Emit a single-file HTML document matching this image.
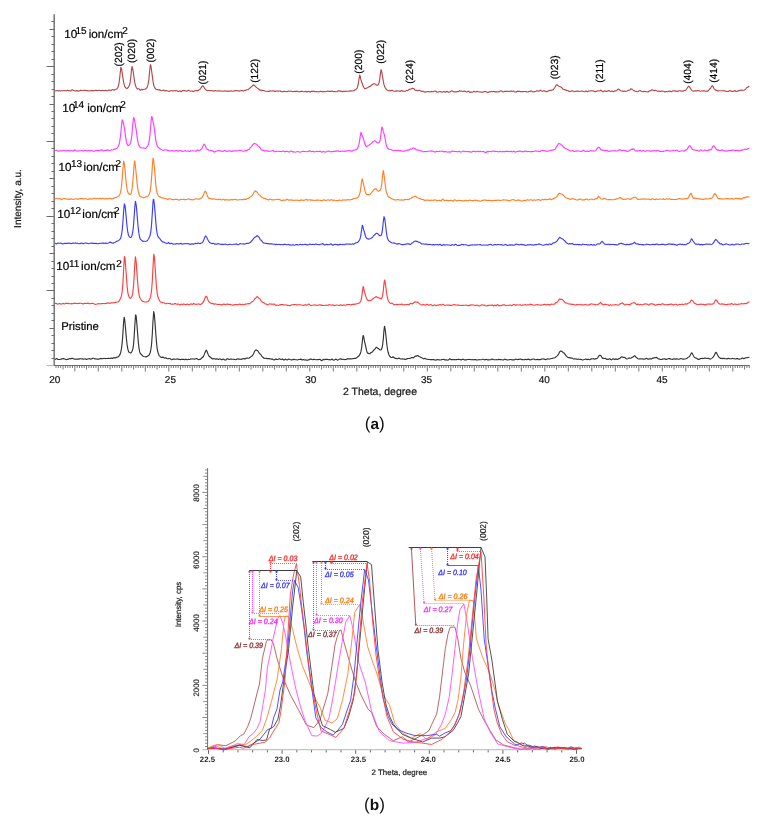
<!DOCTYPE html>
<html><head><meta charset="utf-8"><style>
html,body{margin:0;padding:0;background:#fff;width:768px;height:822px;overflow:hidden}
svg{display:block}
text{font-family:"Liberation Sans", sans-serif;text-rendering:geometricPrecision}
svg{will-change:transform}
</style></head><body>
<svg width="768" height="822" viewBox="0 0 768 822">
<rect width="768" height="822" fill="#fff"/>
<line x1="54.2" y1="14.3" x2="54.2" y2="366.0" stroke="#767676" stroke-width="1.5"/>
<path d="M51.5 358.5H54.5M51.5 350.5H54.5M51.5 343.5H54.5M51.5 335.5H54.5M49.5 328.5H54.5M51.5 320.5H54.5M51.5 313.5H54.5M51.5 305.5H54.5M51.5 298.5H54.5M46.5 290.5H54.5M51.5 283.5H54.5M51.5 276.5H54.5M51.5 268.5H54.5M51.5 261.5H54.5M49.5 253.5H54.5M51.5 246.5H54.5M51.5 238.5H54.5M51.5 231.5H54.5M51.5 223.5H54.5M46.5 216.5H54.5M51.5 208.5H54.5M51.5 201.5H54.5M51.5 193.5H54.5M51.5 186.5H54.5M49.5 178.5H54.5M51.5 171.5H54.5M51.5 163.5H54.5M51.5 156.5H54.5M51.5 148.5H54.5M46.5 141.5H54.5M51.5 133.5H54.5M51.5 126.5H54.5M51.5 118.5H54.5M51.5 111.5H54.5M49.5 104.5H54.5M51.5 96.5H54.5M51.5 89.5H54.5M51.5 81.5H54.5M51.5 74.5H54.5M46.5 66.5H54.5M51.5 59.5H54.5M51.5 51.5H54.5M51.5 44.5H54.5M51.5 36.5H54.5M49.5 29.5H54.5M51.5 21.5H54.5" stroke="#6a6a6a" stroke-width="1" fill="none"/>
<line x1="46.6" y1="365.5" x2="54" y2="365.5" stroke="#bbb" stroke-width="1"/>
<line x1="54.0" y1="365.5" x2="749.6" y2="365.5" stroke="#6a6a6a" stroke-width="1"/>
<path d="M56.00 365.5v2.5M58.35 365.5v2.5M60.70 365.5v2.5M63.05 365.5v4M65.40 365.5v2.5M67.75 365.5v2.5M70.10 365.5v2.5M72.45 365.5v2.5M74.80 365.5v6M77.15 365.5v2.5M79.50 365.5v2.5M81.85 365.5v2.5M84.20 365.5v2.5M86.55 365.5v4M88.90 365.5v2.5M91.25 365.5v2.5M93.60 365.5v2.5M95.95 365.5v2.5M98.30 365.5v6M100.65 365.5v2.5M103.00 365.5v2.5M105.35 365.5v2.5M107.70 365.5v2.5M110.05 365.5v4M112.40 365.5v2.5M114.75 365.5v2.5M117.10 365.5v2.5M119.45 365.5v2.5M121.80 365.5v6M124.15 365.5v2.5M126.50 365.5v2.5M128.85 365.5v2.5M131.20 365.5v2.5M133.55 365.5v4M135.90 365.5v2.5M138.25 365.5v2.5M140.60 365.5v2.5M142.95 365.5v2.5M145.30 365.5v6M147.65 365.5v2.5M150.00 365.5v2.5M152.35 365.5v2.5M154.70 365.5v2.5M157.05 365.5v4M159.40 365.5v2.5M161.75 365.5v2.5M164.10 365.5v2.5M166.45 365.5v2.5M168.80 365.5v6M171.15 365.5v2.5M173.50 365.5v2.5M175.85 365.5v2.5M178.20 365.5v2.5M180.55 365.5v4M182.90 365.5v2.5M185.25 365.5v2.5M187.60 365.5v2.5M189.95 365.5v2.5M192.30 365.5v6M194.65 365.5v2.5M197.00 365.5v2.5M199.35 365.5v2.5M201.70 365.5v2.5M204.05 365.5v4M206.40 365.5v2.5M208.75 365.5v2.5M211.10 365.5v2.5M213.45 365.5v2.5M215.80 365.5v6M218.15 365.5v2.5M220.50 365.5v2.5M222.85 365.5v2.5M225.20 365.5v2.5M227.55 365.5v4M229.90 365.5v2.5M232.25 365.5v2.5M234.60 365.5v2.5M236.95 365.5v2.5M239.30 365.5v6M241.65 365.5v2.5M244.00 365.5v2.5M246.35 365.5v2.5M248.70 365.5v2.5M251.05 365.5v4M253.40 365.5v2.5M255.75 365.5v2.5M258.10 365.5v2.5M260.45 365.5v2.5M262.80 365.5v6M265.15 365.5v2.5M267.50 365.5v2.5M269.85 365.5v2.5M272.20 365.5v2.5M274.55 365.5v4M276.90 365.5v2.5M279.25 365.5v2.5M281.60 365.5v2.5M283.95 365.5v2.5M286.30 365.5v6M288.65 365.5v2.5M291.00 365.5v2.5M293.35 365.5v2.5M295.70 365.5v2.5M298.05 365.5v4M300.40 365.5v2.5M302.75 365.5v2.5M305.10 365.5v2.5M307.45 365.5v2.5M309.80 365.5v6M312.15 365.5v2.5M314.50 365.5v2.5M316.85 365.5v2.5M319.20 365.5v2.5M321.55 365.5v4M323.90 365.5v2.5M326.25 365.5v2.5M328.60 365.5v2.5M330.95 365.5v2.5M333.30 365.5v6M335.65 365.5v2.5M338.00 365.5v2.5M340.35 365.5v2.5M342.70 365.5v2.5M345.05 365.5v4M347.40 365.5v2.5M349.75 365.5v2.5M352.10 365.5v2.5M354.45 365.5v2.5M356.80 365.5v6M359.15 365.5v2.5M361.50 365.5v2.5M363.85 365.5v2.5M366.20 365.5v2.5M368.55 365.5v4M370.90 365.5v2.5M373.25 365.5v2.5M375.60 365.5v2.5M377.95 365.5v2.5M380.30 365.5v6M382.65 365.5v2.5M385.00 365.5v2.5M387.35 365.5v2.5M389.70 365.5v2.5M392.05 365.5v4M394.40 365.5v2.5M396.75 365.5v2.5M399.10 365.5v2.5M401.45 365.5v2.5M403.80 365.5v6M406.15 365.5v2.5M408.50 365.5v2.5M410.85 365.5v2.5M413.20 365.5v2.5M415.55 365.5v4M417.90 365.5v2.5M420.25 365.5v2.5M422.60 365.5v2.5M424.95 365.5v2.5M427.30 365.5v6M429.65 365.5v2.5M432.00 365.5v2.5M434.35 365.5v2.5M436.70 365.5v2.5M439.05 365.5v4M441.40 365.5v2.5M443.75 365.5v2.5M446.10 365.5v2.5M448.45 365.5v2.5M450.80 365.5v6M453.15 365.5v2.5M455.50 365.5v2.5M457.85 365.5v2.5M460.20 365.5v2.5M462.55 365.5v4M464.90 365.5v2.5M467.25 365.5v2.5M469.60 365.5v2.5M471.95 365.5v2.5M474.30 365.5v6M476.65 365.5v2.5M479.00 365.5v2.5M481.35 365.5v2.5M483.70 365.5v2.5M486.05 365.5v4M488.40 365.5v2.5M490.75 365.5v2.5M493.10 365.5v2.5M495.45 365.5v2.5M497.80 365.5v6M500.15 365.5v2.5M502.50 365.5v2.5M504.85 365.5v2.5M507.20 365.5v2.5M509.55 365.5v4M511.90 365.5v2.5M514.25 365.5v2.5M516.60 365.5v2.5M518.95 365.5v2.5M521.30 365.5v6M523.65 365.5v2.5M526.00 365.5v2.5M528.35 365.5v2.5M530.70 365.5v2.5M533.05 365.5v4M535.40 365.5v2.5M537.75 365.5v2.5M540.10 365.5v2.5M542.45 365.5v2.5M544.80 365.5v6M547.15 365.5v2.5M549.50 365.5v2.5M551.85 365.5v2.5M554.20 365.5v2.5M556.55 365.5v4M558.90 365.5v2.5M561.25 365.5v2.5M563.60 365.5v2.5M565.95 365.5v2.5M568.30 365.5v6M570.65 365.5v2.5M573.00 365.5v2.5M575.35 365.5v2.5M577.70 365.5v2.5M580.05 365.5v4M582.40 365.5v2.5M584.75 365.5v2.5M587.10 365.5v2.5M589.45 365.5v2.5M591.80 365.5v6M594.15 365.5v2.5M596.50 365.5v2.5M598.85 365.5v2.5M601.20 365.5v2.5M603.55 365.5v4M605.90 365.5v2.5M608.25 365.5v2.5M610.60 365.5v2.5M612.95 365.5v2.5M615.30 365.5v6M617.65 365.5v2.5M620.00 365.5v2.5M622.35 365.5v2.5M624.70 365.5v2.5M627.05 365.5v4M629.40 365.5v2.5M631.75 365.5v2.5M634.10 365.5v2.5M636.45 365.5v2.5M638.80 365.5v6M641.15 365.5v2.5M643.50 365.5v2.5M645.85 365.5v2.5M648.20 365.5v2.5M650.55 365.5v4M652.90 365.5v2.5M655.25 365.5v2.5M657.60 365.5v2.5M659.95 365.5v2.5M662.30 365.5v6M664.65 365.5v2.5M667.00 365.5v2.5M669.35 365.5v2.5M671.70 365.5v2.5M674.05 365.5v4M676.40 365.5v2.5M678.75 365.5v2.5M681.10 365.5v2.5M683.45 365.5v2.5M685.80 365.5v6M688.15 365.5v2.5M690.50 365.5v2.5M692.85 365.5v2.5M695.20 365.5v2.5M697.55 365.5v4M699.90 365.5v2.5M702.25 365.5v2.5M704.60 365.5v2.5M706.95 365.5v2.5M709.30 365.5v6M711.65 365.5v2.5M714.00 365.5v2.5M716.35 365.5v2.5M718.70 365.5v2.5M721.05 365.5v4M723.40 365.5v2.5M725.75 365.5v2.5M728.10 365.5v2.5M730.45 365.5v2.5M732.80 365.5v6M735.15 365.5v2.5M737.50 365.5v2.5M739.85 365.5v2.5M742.20 365.5v2.5M744.55 365.5v4M746.90 365.5v2.5M749.25 365.5v2.5" stroke="#6a6a6a" stroke-width="0.9" fill="none"/>
<text x="54.8" y="382.6" font-size="10" text-anchor="middle" fill="#111" stroke="#111" stroke-width="0.2">20</text>
<text x="170.4" y="382.6" font-size="10" text-anchor="middle" fill="#111" stroke="#111" stroke-width="0.2">25</text>
<text x="310.8" y="382.6" font-size="10" text-anchor="middle" fill="#111" stroke="#111" stroke-width="0.2">30</text>
<text x="426.5" y="382.6" font-size="10" text-anchor="middle" fill="#111" stroke="#111" stroke-width="0.2">35</text>
<text x="544.2" y="382.6" font-size="10" text-anchor="middle" fill="#111" stroke="#111" stroke-width="0.2">40</text>
<text x="662" y="382.6" font-size="10" text-anchor="middle" fill="#111" stroke="#111" stroke-width="0.2">45</text>
<text x="343" y="395.2" font-size="10.5" fill="#111" stroke="#111" stroke-width="0.2" textLength="74" lengthAdjust="spacingAndGlyphs">2 Theta, degree</text>
<text transform="translate(21.0,198.5) rotate(-90)" font-size="10" text-anchor="middle" fill="#111" stroke="#111" stroke-width="0.2">Intensity, a.u.</text>
<text x="64.30" y="37.80" font-size="11.7" fill="#000" stroke="#000" stroke-width="0.2">10</text>
<text x="75.40" y="33.70" font-size="10" fill="#000" stroke="#000" stroke-width="0.2">15</text>
<text x="88.70" y="37.80" font-size="11.7" fill="#000" stroke="#000" stroke-width="0.2">ion/cm</text>
<text x="122.30" y="34.00" font-size="10" fill="#000" stroke="#000" stroke-width="0.2">2</text>
<text x="62.30" y="112.40" font-size="11.7" fill="#000" stroke="#000" stroke-width="0.2">10</text>
<text x="73.00" y="107.60" font-size="10" fill="#000" stroke="#000" stroke-width="0.2">14</text>
<text x="87.20" y="112.40" font-size="11.7" fill="#000" stroke="#000" stroke-width="0.2">ion/cm</text>
<text x="120.30" y="107.70" font-size="10" fill="#000" stroke="#000" stroke-width="0.2">2</text>
<text x="58.40" y="170.70" font-size="11.7" fill="#000" stroke="#000" stroke-width="0.2">10</text>
<text x="70.90" y="166.60" font-size="10" fill="#000" stroke="#000" stroke-width="0.2">13</text>
<text x="83.60" y="170.70" font-size="11.7" fill="#000" stroke="#000" stroke-width="0.2">ion/cm</text>
<text x="115.50" y="166.80" font-size="10" fill="#000" stroke="#000" stroke-width="0.2">2</text>
<text x="57.30" y="217.80" font-size="11.7" fill="#000" stroke="#000" stroke-width="0.2">10</text>
<text x="69.90" y="213.50" font-size="10" fill="#000" stroke="#000" stroke-width="0.2">12</text>
<text x="82.30" y="217.80" font-size="11.7" fill="#000" stroke="#000" stroke-width="0.2">ion/cm</text>
<text x="113.95" y="213.80" font-size="10" fill="#000" stroke="#000" stroke-width="0.2">2</text>
<text x="56.20" y="270.20" font-size="11.7" fill="#000" stroke="#000" stroke-width="0.2">10</text>
<text x="69.00" y="266.70" font-size="10" fill="#000" stroke="#000" stroke-width="0.2">11</text>
<text x="81.10" y="270.20" font-size="11.7" fill="#000" stroke="#000" stroke-width="0.2">ion/cm</text>
<text x="116.20" y="267.00" font-size="10" fill="#000" stroke="#000" stroke-width="0.2">2</text>
<text x="61.2" y="330.1" font-size="11.3" fill="#000" stroke="#000" stroke-width="0.2">Pristine</text>
<text transform="translate(122.3,54.4) rotate(-90)" font-size="10.3" text-anchor="middle" fill="#000" stroke="#000" stroke-width="0.2">(202)</text>
<text transform="translate(134.7,50.9) rotate(-90)" font-size="10.3" text-anchor="middle" fill="#000" stroke="#000" stroke-width="0.2">(020)</text>
<text transform="translate(153.7,50.6) rotate(-90)" font-size="10.3" text-anchor="middle" fill="#000" stroke="#000" stroke-width="0.2">(002)</text>
<text transform="translate(205.6,72.5) rotate(-90)" font-size="10.3" text-anchor="middle" fill="#000" stroke="#000" stroke-width="0.2">(021)</text>
<text transform="translate(257.5,70.8) rotate(-90)" font-size="10.3" text-anchor="middle" fill="#000" stroke="#000" stroke-width="0.2">(122)</text>
<text transform="translate(361.9,61.7) rotate(-90)" font-size="10.3" text-anchor="middle" fill="#000" stroke="#000" stroke-width="0.2">(200)</text>
<text transform="translate(384.3,51.8) rotate(-90)" font-size="10.3" text-anchor="middle" fill="#000" stroke="#000" stroke-width="0.2">(022)</text>
<text transform="translate(413.2,71.8) rotate(-90)" font-size="10.3" text-anchor="middle" fill="#000" stroke="#000" stroke-width="0.2">(224)</text>
<text transform="translate(557.6,67.3) rotate(-90)" font-size="10.3" text-anchor="middle" fill="#000" stroke="#000" stroke-width="0.2">(023)</text>
<text transform="translate(603.4,71.0) rotate(-90)" font-size="10.3" text-anchor="middle" fill="#000" stroke="#000" stroke-width="0.2">(211)</text>
<text transform="translate(690.6,71.8) rotate(-90)" font-size="10.3" text-anchor="middle" fill="#000" stroke="#000" stroke-width="0.2">(404)</text>
<text transform="translate(717.1,70.8) rotate(-90)" font-size="10.3" text-anchor="middle" fill="#000" stroke="#000" stroke-width="0.2">(414)</text>
<path d="M55.0 90.86L55.7 90.96L56.4 90.69L57.1 90.50L57.8 90.79L58.5 90.83L59.2 90.66L59.9 90.79L60.6 90.87L61.3 90.79L62.0 90.78L62.7 90.72L63.4 90.53L64.1 90.47L64.8 90.60L65.5 90.76L66.2 90.71L66.9 90.50L67.6 90.40L68.3 90.50L69.0 90.60L69.7 90.75L70.4 91.07L71.1 90.73L71.8 89.87L72.5 89.82L73.2 90.32L73.9 90.55L74.6 90.68L75.3 91.00L76.0 91.07L76.7 90.59L77.4 90.67L78.1 91.19L78.8 91.15L79.5 90.83L80.2 90.39L80.9 90.19L81.6 90.49L82.3 90.53L83.0 90.26L83.7 90.30L84.4 90.41L85.1 90.37L85.8 90.50L86.5 90.64L87.2 90.58L87.9 90.57L88.6 90.82L89.3 90.95L90.0 90.70L90.7 90.54L91.4 90.63L92.1 90.69L92.8 90.63L93.5 90.57L94.2 90.70L94.9 90.56L95.6 90.25L96.3 90.38L97.0 90.61L97.7 90.55L98.4 90.24L99.1 90.21L99.8 90.44L100.5 90.52L101.2 90.67L101.9 90.58L102.6 90.27L103.3 90.56L104.0 90.84L104.7 90.50L105.4 90.36L106.1 90.61L106.8 90.74L107.5 90.66L108.2 90.27L108.9 89.97L109.6 90.09L110.3 90.29L111.0 90.43L111.7 90.14L112.4 89.59L113.1 89.64L113.8 90.06L114.5 89.94L115.2 89.45L115.9 89.19L116.6 88.95L117.3 88.37L118.0 87.20L118.7 84.78L119.4 80.39L120.1 73.94L120.8 68.07L120.9 67.35L121.5 68.70L122.2 72.93L122.9 77.44L123.6 82.09L124.3 85.23L125.0 86.98L125.7 87.82L126.4 88.29L127.1 88.47L127.8 87.94L128.5 86.87L129.2 85.74L129.9 83.76L130.6 78.98L131.3 71.74L132.0 66.63L132.0 66.78L132.7 68.80L133.4 73.19L134.1 78.01L134.8 82.61L135.5 85.62L136.2 87.28L136.9 88.55L137.6 89.13L138.3 88.70L139.0 88.70L139.7 89.74L140.4 90.26L141.1 89.64L141.8 89.37L142.5 89.60L143.2 89.45L143.9 89.25L144.6 89.26L145.3 89.11L146.0 88.65L146.7 87.97L147.4 86.65L148.1 84.19L148.8 79.82L149.5 72.81L150.2 65.75L150.4 64.68L150.9 65.74L151.6 70.78L152.3 75.94L153.0 81.19L153.7 84.98L154.4 87.00L155.1 88.21L155.8 89.08L156.5 89.39L157.2 89.56L157.9 89.92L158.6 89.93L159.3 89.78L160.0 89.93L160.7 90.41L161.4 90.69L162.1 90.47L162.8 90.21L163.5 90.11L164.2 90.51L164.9 90.89L165.6 90.69L166.3 90.58L167.0 90.83L167.7 91.07L168.4 91.30L169.1 91.42L169.8 91.05L170.5 90.70L171.2 90.74L171.9 90.84L172.6 90.89L173.3 90.91L174.0 90.72L174.7 90.61L175.4 90.83L176.1 90.73L176.8 90.64L177.5 91.11L178.2 91.40L178.9 91.25L179.6 90.93L180.3 91.09L181.0 91.66L181.7 91.39L182.4 90.69L183.1 90.63L183.8 90.69L184.5 90.61L185.2 90.76L185.9 91.03L186.6 91.34L187.3 91.02L188.0 90.41L188.7 90.43L189.4 90.70L190.1 91.05L190.8 91.20L191.5 90.96L192.2 90.96L192.9 91.49L193.6 91.49L194.3 90.90L195.0 90.71L195.7 90.66L196.4 90.48L197.1 90.56L197.8 90.71L198.5 90.28L199.2 89.87L199.9 89.48L200.6 88.55L201.3 87.41L202.0 86.33L202.7 85.75L202.7 85.64L203.4 86.24L204.1 87.49L204.8 88.60L205.5 89.43L206.2 90.06L206.9 90.47L207.6 90.56L208.3 90.53L209.0 90.53L209.7 90.47L210.4 90.58L211.1 90.76L211.8 90.65L212.5 90.71L213.2 91.06L213.9 91.13L214.6 90.74L215.3 90.55L216.0 90.95L216.7 91.02L217.4 90.86L218.1 91.02L218.8 90.88L219.5 90.75L220.2 90.97L220.9 91.11L221.6 90.95L222.3 90.97L223.0 91.30L223.7 91.01L224.4 90.74L225.1 91.05L225.8 91.16L226.5 91.12L227.2 91.08L227.9 91.10L228.6 91.09L229.3 91.05L230.0 91.14L230.7 90.98L231.4 90.85L232.1 91.08L232.8 91.20L233.5 90.99L234.2 90.92L234.9 90.91L235.6 90.58L236.3 90.58L237.0 90.75L237.7 90.69L238.4 90.83L239.1 91.08L239.8 91.06L240.5 90.73L241.2 90.66L241.9 90.54L242.6 90.60L243.3 91.10L244.0 90.76L244.7 90.37L245.4 90.52L246.1 90.11L246.8 89.64L247.5 89.78L248.2 89.62L248.9 88.91L249.6 88.37L250.3 87.81L251.0 87.06L251.7 86.51L252.4 85.89L253.1 85.12L253.8 84.84L253.8 84.96L254.5 85.37L255.2 86.13L255.9 86.86L256.6 87.52L257.3 88.12L258.0 88.54L258.7 88.98L259.4 89.78L260.1 90.33L260.8 90.18L261.5 90.12L262.2 90.32L262.9 90.40L263.6 90.52L264.3 90.74L265.0 91.02L265.7 91.28L266.4 91.22L267.1 91.24L267.8 91.32L268.5 91.34L269.2 91.39L269.9 91.09L270.6 90.86L271.3 91.01L272.0 90.98L272.7 90.88L273.4 90.87L274.1 91.03L274.8 91.42L275.5 91.38L276.2 91.03L276.9 90.97L277.6 91.10L278.3 91.11L279.0 90.95L279.7 90.98L280.4 91.15L281.1 91.34L281.8 91.70L282.5 91.80L283.2 91.61L283.9 91.36L284.6 91.22L285.3 91.41L286.0 91.56L286.7 91.75L287.4 91.61L288.1 91.10L288.8 91.09L289.5 91.28L290.2 91.30L290.9 91.14L291.6 91.20L292.3 91.53L293.0 91.65L293.7 91.46L294.4 91.21L295.1 91.34L295.8 91.62L296.5 91.37L297.2 91.16L297.9 91.53L298.6 91.80L299.3 91.71L300.0 91.61L300.7 91.51L301.4 91.39L302.1 91.43L302.8 91.52L303.5 91.72L304.2 91.73L304.9 91.42L305.6 91.39L306.3 91.64L307.0 91.88L307.7 91.66L308.4 91.33L309.1 91.55L309.8 92.00L310.5 91.91L311.2 91.27L311.9 91.32L312.6 91.59L313.3 91.17L314.0 91.09L314.7 91.60L315.4 91.73L316.1 91.52L316.8 91.56L317.5 91.78L318.2 91.89L318.9 91.80L319.6 91.62L320.3 91.36L321.0 91.32L321.7 91.58L322.4 91.83L323.1 91.68L323.8 91.45L324.5 91.66L325.2 91.74L325.9 91.52L326.6 91.37L327.3 91.18L328.0 91.05L328.7 91.34L329.4 91.44L330.1 91.37L330.8 91.37L331.5 91.14L332.2 91.09L332.9 91.51L333.6 91.68L334.3 91.36L335.0 91.50L335.7 91.78L336.4 91.79L337.1 91.64L337.8 91.02L338.5 90.80L339.2 91.15L339.9 91.14L340.6 90.99L341.3 91.15L342.0 91.57L342.7 91.59L343.4 91.35L344.1 91.44L344.8 91.39L345.5 91.23L346.2 91.18L346.9 91.21L347.6 91.30L348.3 91.20L349.0 91.12L349.7 91.11L350.4 90.92L351.1 90.88L351.8 91.07L352.5 90.99L353.2 90.77L353.9 90.72L354.6 90.34L355.3 89.70L356.0 89.27L356.7 88.79L357.4 87.46L358.1 84.74L358.8 80.52L359.5 75.79L359.8 75.10L360.2 76.17L360.9 79.63L361.6 81.74L362.3 83.70L363.0 85.72L363.7 87.20L364.4 88.28L365.1 88.82L365.8 88.58L366.5 88.10L367.2 87.80L367.9 87.41L368.6 86.98L369.3 86.67L370.0 86.47L370.7 86.03L371.4 85.22L372.1 84.66L372.8 84.16L373.5 83.74L373.5 83.80L374.2 83.76L374.9 83.87L375.6 84.42L376.3 84.91L377.0 85.13L377.7 85.10L378.4 84.54L379.1 82.60L379.8 78.59L380.5 72.85L381.1 69.65L381.2 69.89L381.9 72.80L382.6 76.87L383.3 81.14L384.0 84.63L384.7 86.64L385.4 87.97L386.1 89.04L386.8 89.68L387.5 90.21L388.2 90.62L388.9 90.58L389.6 90.72L390.3 90.90L391.0 90.61L391.7 90.32L392.4 90.40L393.1 90.89L393.8 91.25L394.5 91.21L395.2 91.05L395.9 91.06L396.6 90.93L397.3 90.69L398.0 90.95L398.7 91.03L399.4 91.11L400.1 91.39L400.8 90.98L401.5 90.59L402.2 90.87L402.9 91.17L403.6 91.12L404.3 91.20L405.0 91.27L405.7 90.88L406.4 90.41L407.1 90.50L407.8 90.56L408.5 89.88L409.2 89.36L409.9 89.31L410.6 89.15L411.3 88.82L412.0 88.42L412.4 88.24L412.7 88.50L413.4 88.60L414.1 88.77L414.8 89.81L415.5 90.42L416.2 90.22L416.9 90.52L417.6 90.84L418.3 90.42L419.0 90.17L419.7 90.48L420.4 90.84L421.1 91.14L421.8 91.45L422.5 91.36L423.2 91.20L423.9 91.66L424.6 92.15L425.3 92.14L426.0 91.90L426.7 91.77L427.4 91.66L428.1 91.52L428.8 91.62L429.5 91.79L430.2 91.91L430.9 91.71L431.6 91.40L432.3 91.65L433.0 91.79L433.7 91.42L434.4 91.25L435.1 91.18L435.8 91.29L436.5 91.86L437.2 92.20L437.9 92.05L438.6 91.81L439.3 91.71L440.0 91.63L440.7 91.63L441.4 91.93L442.1 92.16L442.8 91.98L443.5 91.67L444.2 91.62L444.9 91.88L445.6 92.14L446.3 91.73L447.0 91.30L447.7 91.80L448.4 92.31L449.1 92.22L449.8 92.02L450.5 91.58L451.2 91.00L451.9 90.86L452.6 91.16L453.3 91.57L454.0 91.87L454.7 91.89L455.4 91.84L456.1 91.89L456.8 91.69L457.5 91.62L458.2 91.74L458.9 91.27L459.6 90.80L460.3 91.14L461.0 91.24L461.7 90.94L462.4 91.22L463.1 91.44L463.8 91.16L464.5 91.14L465.2 91.38L465.9 91.71L466.6 92.04L467.3 91.80L468.0 91.30L468.7 91.43L469.4 92.06L470.1 92.37L470.8 92.13L471.5 92.11L472.2 92.25L472.9 91.94L473.6 91.49L474.3 91.29L475.0 91.71L475.7 92.05L476.4 91.66L477.1 91.39L477.8 91.41L478.5 91.71L479.2 91.95L479.9 91.88L480.6 91.98L481.3 92.06L482.0 92.15L482.7 92.31L483.4 92.10L484.1 91.66L484.8 91.41L485.5 91.49L486.2 91.70L486.9 92.04L487.6 92.59L488.3 92.49L489.0 91.85L489.7 91.82L490.4 91.86L491.1 91.40L491.8 91.48L492.5 91.78L493.2 91.54L493.9 91.43L494.6 91.64L495.3 91.84L496.0 91.87L496.7 91.89L497.4 91.90L498.1 91.92L498.8 91.88L499.5 91.47L500.2 91.02L500.9 90.86L501.6 90.99L502.3 91.47L503.0 91.89L503.7 91.78L504.4 91.42L505.1 91.27L505.8 91.36L506.5 91.43L507.2 91.30L507.9 91.18L508.6 91.49L509.3 91.59L510.0 91.21L510.7 91.06L511.4 91.12L512.1 91.34L512.8 91.23L513.5 91.05L514.2 91.64L514.9 92.12L515.6 92.04L516.3 91.93L517.0 91.49L517.7 91.14L518.4 91.43L519.1 91.40L519.8 91.30L520.5 91.67L521.2 91.72L521.9 91.63L522.6 91.65L523.3 91.58L524.0 91.54L524.7 91.51L525.4 91.47L526.1 91.57L526.8 91.85L527.5 92.01L528.2 91.86L528.9 91.48L529.6 91.45L530.3 91.37L531.0 90.84L531.7 91.06L532.4 91.72L533.1 91.90L533.8 91.79L534.5 91.63L535.2 91.52L535.9 91.21L536.6 90.84L537.3 90.81L538.0 91.04L538.7 91.16L539.4 90.76L540.1 90.20L540.8 90.39L541.5 91.03L542.2 91.28L542.9 91.11L543.6 90.71L544.3 90.83L545.0 91.30L545.7 91.36L546.4 91.60L547.1 91.69L547.8 91.17L548.5 90.79L549.2 90.59L549.9 90.39L550.6 90.36L551.3 90.31L552.0 90.15L552.7 90.01L553.4 89.47L554.1 88.53L554.8 87.55L555.5 86.30L556.2 85.19L556.9 84.65L557.0 84.80L557.6 85.24L558.3 85.89L559.0 86.31L559.7 86.55L560.4 86.84L561.1 87.16L561.8 87.75L562.5 88.69L563.2 89.22L563.9 89.51L564.6 89.82L565.3 89.91L566.0 90.16L566.7 90.42L567.4 90.45L568.1 90.68L568.8 91.15L569.5 91.45L570.2 91.48L570.9 91.16L571.6 90.83L572.3 90.81L573.0 90.96L573.7 91.38L574.4 91.69L575.1 91.46L575.8 91.16L576.5 91.19L577.2 91.17L577.9 91.04L578.6 91.25L579.3 91.37L580.0 91.22L580.7 91.23L581.4 91.28L582.1 91.11L582.8 91.19L583.5 91.52L584.2 91.77L584.9 91.73L585.6 91.15L586.3 90.96L587.0 91.54L587.7 91.68L588.4 91.16L589.1 90.95L589.8 91.00L590.5 90.92L591.2 90.83L591.9 90.78L592.6 90.80L593.3 90.80L594.0 91.25L594.7 91.69L595.4 91.57L596.1 91.41L596.8 91.12L597.5 90.74L598.2 90.75L598.9 90.96L599.6 90.89L600.3 90.55L600.5 90.16L601.0 90.19L601.7 90.88L602.4 91.58L603.1 91.71L603.8 91.17L604.5 90.71L605.2 90.91L605.9 91.43L606.6 91.40L607.3 91.16L608.0 90.93L608.7 90.48L609.4 90.70L610.1 91.40L610.8 91.55L611.5 91.27L612.2 91.13L612.9 91.51L613.6 91.60L614.3 91.10L615.0 90.90L615.7 90.88L616.4 90.69L617.1 90.19L617.8 89.40L618.4 89.03L618.5 89.09L619.2 89.53L619.9 90.18L620.6 90.76L621.3 91.03L622.0 90.96L622.7 91.10L623.4 91.34L624.1 91.19L624.8 91.15L625.5 91.32L626.2 91.24L626.9 91.04L627.6 90.71L628.3 90.32L629.0 90.28L629.7 90.11L630.4 89.27L631.0 88.69L631.1 88.74L631.8 89.06L632.5 89.65L633.2 90.14L633.9 90.52L634.6 91.04L635.3 91.25L636.0 91.36L636.7 91.57L637.4 91.74L638.1 91.49L638.8 91.01L639.5 90.79L640.2 90.66L640.9 90.96L641.6 91.49L642.3 91.73L643.0 91.64L643.7 91.35L644.4 91.28L645.1 91.45L645.8 91.74L646.5 91.70L647.2 91.74L647.9 92.00L648.6 91.44L649.3 90.86L650.0 90.87L650.7 90.69L651.4 90.12L652.1 89.74L652.5 89.88L652.8 90.01L653.5 90.48L654.2 90.68L654.9 90.36L655.6 90.32L656.3 90.66L657.0 91.03L657.7 91.22L658.4 91.15L659.1 91.09L659.8 91.40L660.5 91.47L661.2 91.06L661.9 91.06L662.6 91.28L663.3 91.23L664.0 91.42L664.7 91.84L665.4 91.91L666.1 91.54L666.8 91.46L667.5 91.77L668.2 91.56L668.9 91.12L669.6 91.04L670.3 91.36L671.0 91.75L671.7 91.57L672.4 91.02L673.1 90.80L673.8 91.02L674.5 90.92L675.2 90.88L675.9 91.12L676.6 91.17L677.3 91.44L678.0 91.34L678.7 90.84L679.4 90.70L680.1 90.71L680.8 91.00L681.5 91.12L682.2 91.02L682.9 91.20L683.6 90.88L684.3 90.41L685.0 90.47L685.7 90.21L686.4 89.34L687.1 88.25L687.8 87.07L688.5 86.34L688.8 86.23L689.2 86.45L689.9 87.69L690.6 88.66L691.3 89.74L692.0 90.69L692.7 90.96L693.4 91.10L694.1 90.99L694.8 90.74L695.5 90.83L696.2 90.94L696.9 90.83L697.6 90.69L698.3 90.57L699.0 90.61L699.7 90.96L700.4 91.27L701.1 91.07L701.8 90.80L702.5 91.01L703.2 90.94L703.9 90.66L704.6 90.92L705.3 91.22L706.0 91.21L706.7 91.18L707.4 91.15L708.1 90.88L708.8 90.12L709.5 89.17L710.2 88.55L710.9 87.62L711.6 86.19L712.3 85.60L712.3 85.68L713.0 86.52L713.7 88.04L714.4 89.06L715.1 89.83L715.8 90.16L716.5 90.35L717.2 90.66L717.9 90.82L718.6 90.85L719.3 90.73L720.0 90.70L720.7 90.74L721.4 90.78L722.1 90.75L722.8 90.78L723.5 90.90L724.2 90.69L724.9 90.75L725.6 91.27L726.3 91.48L727.0 91.38L727.7 91.50L728.4 91.50L729.1 90.93L729.8 90.57L730.5 90.80L731.2 91.15L731.9 91.33L732.6 91.44L733.3 91.34L734.0 90.94L734.7 90.61L735.4 90.87L736.1 91.48L736.8 91.50L737.5 91.11L738.2 90.81L738.9 90.67L739.6 90.61L740.3 90.28L741.0 89.98L741.7 90.17L742.4 90.34L743.1 90.29L743.8 90.21L744.5 89.96L745.2 89.55L745.9 88.76L746.6 87.65L747.3 87.33L748.0 87.23L748.7 86.45L749.4 86.09" stroke="#b4484a" stroke-width="1.15" fill="none" stroke-linejoin="round"/>
<path d="M55.0 150.73L55.7 150.59L56.4 150.27L57.1 150.31L57.8 151.03L58.5 151.21L59.2 150.90L59.9 150.93L60.6 150.84L61.3 150.76L62.0 150.87L62.7 150.74L63.4 150.52L64.1 150.55L64.8 150.74L65.5 150.83L66.2 150.78L66.9 150.66L67.6 150.57L68.3 150.62L69.0 150.85L69.7 150.92L70.4 150.88L71.1 150.74L71.8 150.61L72.5 151.04L73.2 151.12L73.9 150.34L74.6 149.89L75.3 150.22L76.0 150.74L76.7 150.98L77.4 151.08L78.1 151.04L78.8 150.87L79.5 150.77L80.2 150.79L80.9 150.74L81.6 150.46L82.3 150.47L83.0 150.91L83.7 151.06L84.4 150.57L85.1 150.23L85.8 150.51L86.5 150.80L87.2 150.88L87.9 150.72L88.6 150.48L89.3 150.82L90.0 150.86L90.7 150.43L91.4 150.64L92.1 150.96L92.8 150.92L93.5 151.17L94.2 151.37L94.9 150.94L95.6 150.47L96.3 150.45L97.0 150.63L97.7 150.59L98.4 150.49L99.1 150.59L99.8 150.57L100.5 150.16L101.2 149.71L101.9 149.86L102.6 150.50L103.3 150.83L104.0 150.84L104.7 150.53L105.4 150.28L106.1 150.40L106.8 150.23L107.5 149.88L108.2 150.11L108.9 150.60L109.6 150.53L110.3 150.22L111.0 149.92L111.7 149.84L112.4 149.95L113.1 149.69L113.8 149.32L114.5 149.10L115.2 148.87L115.9 148.84L116.6 148.53L117.3 147.84L118.0 147.02L118.7 145.52L119.4 143.07L120.1 139.21L120.8 133.27L121.5 125.54L122.2 120.01L122.2 119.89L122.9 120.96L123.6 124.17L124.3 127.11L125.0 132.07L125.7 137.66L126.4 141.63L127.1 144.10L127.8 145.41L128.5 145.41L129.2 145.06L129.9 144.37L130.6 142.45L131.3 139.11L132.0 133.57L132.7 125.52L133.4 118.40L133.6 117.76L134.1 118.18L134.8 121.85L135.5 125.59L136.2 130.16L136.9 135.68L137.6 140.28L138.3 143.48L139.0 145.56L139.7 146.93L140.4 147.60L141.1 147.71L141.8 147.86L142.5 147.95L143.2 147.92L143.9 148.05L144.6 148.27L145.3 148.40L146.0 148.04L146.7 147.22L147.4 146.34L148.1 145.22L148.8 143.15L149.5 139.06L150.2 132.38L150.9 123.46L151.6 116.68L151.7 116.50L152.3 117.76L153.0 121.88L153.7 124.73L154.4 128.79L155.1 134.94L155.8 140.37L156.5 143.88L157.2 145.85L157.9 146.97L158.6 147.82L159.3 148.36L160.0 148.78L160.7 149.24L161.4 149.54L162.1 149.91L162.8 150.25L163.5 150.32L164.2 150.08L164.9 149.83L165.6 149.96L166.3 150.01L167.0 150.03L167.7 150.43L168.4 150.59L169.1 150.65L169.8 150.95L170.5 151.01L171.2 150.74L171.9 150.56L172.6 150.77L173.3 150.81L174.0 150.77L174.7 151.05L175.4 150.86L176.1 150.45L176.8 150.51L177.5 150.74L178.2 151.13L178.9 151.12L179.6 150.64L180.3 150.59L181.0 150.83L181.7 151.10L182.4 151.41L183.1 151.31L183.8 151.07L184.5 150.84L185.2 150.59L185.9 150.92L186.6 151.23L187.3 150.97L188.0 150.87L188.7 151.29L189.4 151.58L190.1 151.15L190.8 150.91L191.5 150.97L192.2 150.75L192.9 150.78L193.6 150.98L194.3 150.98L195.0 150.97L195.7 151.13L196.4 150.85L197.1 150.12L197.8 149.94L198.5 150.41L199.2 150.72L199.9 150.37L200.6 149.75L201.3 149.12L202.0 148.25L202.7 146.87L203.4 145.10L204.1 144.15L204.2 144.54L204.8 145.07L205.5 146.34L206.2 148.21L206.9 149.26L207.6 149.36L208.3 149.66L209.0 150.40L209.7 150.74L210.4 150.42L211.1 150.44L211.8 150.87L212.5 150.88L213.2 151.15L213.9 151.94L214.6 152.06L215.3 151.52L216.0 151.18L216.7 150.93L217.4 150.65L218.1 150.79L218.8 150.81L219.5 150.54L220.2 150.68L220.9 151.12L221.6 151.29L222.3 151.34L223.0 151.32L223.7 150.93L224.4 150.56L225.1 150.56L225.8 150.99L226.5 151.33L227.2 151.34L227.9 151.20L228.6 150.93L229.3 150.84L230.0 150.79L230.7 151.02L231.4 151.60L232.1 151.53L232.8 151.00L233.5 150.88L234.2 150.87L234.9 150.84L235.6 150.91L236.3 150.81L237.0 150.73L237.7 150.73L238.4 150.66L239.1 150.46L239.8 150.34L240.5 150.47L241.2 150.63L241.9 150.76L242.6 151.03L243.3 151.29L244.0 151.09L244.7 150.77L245.4 150.60L246.1 150.49L246.8 150.56L247.5 150.14L248.2 149.52L248.9 149.45L249.6 148.82L250.3 147.62L251.0 147.01L251.7 146.34L252.4 145.22L253.1 144.35L253.8 143.82L254.5 143.57L255.2 143.77L255.2 143.94L255.9 143.90L256.6 144.39L257.3 145.19L258.0 145.86L258.7 146.33L259.4 146.92L260.1 148.00L260.8 149.21L261.5 149.96L262.2 150.18L262.9 150.16L263.6 150.34L264.3 150.93L265.0 151.09L265.7 150.77L266.4 150.64L267.1 150.85L267.8 151.28L268.5 151.31L269.2 151.17L269.9 151.28L270.6 151.28L271.3 151.00L272.0 150.72L272.7 150.57L273.4 150.75L274.1 151.49L274.8 151.73L275.5 151.22L276.2 151.24L276.9 151.38L277.6 151.23L278.3 151.21L279.0 151.33L279.7 151.53L280.4 151.47L281.1 151.50L281.8 151.60L282.5 151.24L283.2 150.92L283.9 151.24L284.6 151.62L285.3 151.62L286.0 151.43L286.7 151.31L287.4 151.53L288.1 151.75L288.8 151.89L289.5 152.01L290.2 151.62L290.9 151.07L291.6 151.17L292.3 151.65L293.0 151.82L293.7 151.87L294.4 152.02L295.1 152.20L295.8 152.05L296.5 151.67L297.2 151.73L297.9 151.73L298.6 151.59L299.3 151.94L300.0 152.19L300.7 151.95L301.4 151.69L302.1 151.49L302.8 151.35L303.5 151.38L304.2 151.45L304.9 151.47L305.6 151.50L306.3 151.74L307.0 151.75L307.7 151.52L308.4 151.40L309.1 150.93L309.8 150.77L310.5 151.28L311.2 151.62L311.9 151.48L312.6 151.21L313.3 151.37L314.0 151.75L314.7 151.89L315.4 151.77L316.1 151.57L316.8 151.37L317.5 151.34L318.2 151.52L318.9 151.56L319.6 151.30L320.3 151.30L321.0 151.82L321.7 152.12L322.4 151.91L323.1 151.63L323.8 151.63L324.5 151.84L325.2 152.03L325.9 152.08L326.6 151.71L327.3 151.26L328.0 151.14L328.7 151.04L329.4 151.24L330.1 151.77L330.8 151.71L331.5 151.51L332.2 151.81L332.9 151.65L333.6 151.32L334.3 151.44L335.0 151.40L335.7 151.01L336.4 150.87L337.1 151.24L337.8 151.18L338.5 150.87L339.2 151.29L339.9 151.55L340.6 151.34L341.3 151.29L342.0 151.17L342.7 151.02L343.4 151.26L344.1 151.38L344.8 151.07L345.5 151.10L346.2 151.15L346.9 150.91L347.6 150.70L348.3 150.51L349.0 150.58L349.7 150.84L350.4 150.79L351.1 150.93L351.8 151.21L352.5 150.77L353.2 150.30L353.9 150.11L354.6 150.03L355.3 149.95L356.0 149.61L356.7 149.35L357.4 148.56L358.1 147.06L358.8 144.94L359.5 141.44L360.2 136.49L360.8 133.13L360.9 132.39L361.6 134.15L362.3 136.44L363.0 137.43L363.7 139.44L364.4 142.34L365.1 144.56L365.8 146.02L366.5 146.53L367.2 146.15L367.9 145.84L368.6 145.50L369.3 144.88L370.0 144.32L370.7 143.93L371.4 143.45L372.1 142.53L372.8 141.66L373.5 141.24L374.2 140.93L374.3 140.83L374.9 140.86L375.6 141.23L376.3 142.02L377.0 142.66L377.7 142.77L378.4 142.89L379.1 142.74L379.8 141.35L380.5 137.84L381.2 131.93L381.9 127.18L382.0 126.93L382.6 128.44L383.3 131.92L384.0 133.63L384.7 136.21L385.4 140.50L386.1 144.11L386.8 146.56L387.5 148.07L388.2 148.84L388.9 149.14L389.6 149.22L390.3 149.29L391.0 149.56L391.7 150.00L392.4 150.36L393.1 150.27L393.8 150.26L394.5 150.53L395.2 150.49L395.9 150.46L396.6 150.74L397.3 150.67L398.0 150.24L398.7 150.39L399.4 150.84L400.1 150.82L400.8 150.68L401.5 150.94L402.2 151.23L402.9 151.14L403.6 151.18L404.3 151.16L405.0 150.91L405.7 150.78L406.4 150.54L407.1 150.19L407.8 150.10L408.5 150.15L409.2 149.79L409.9 149.21L410.6 149.06L411.3 149.24L412.0 148.93L412.7 148.31L413.2 147.92L413.4 147.88L414.1 148.37L414.8 148.66L415.5 148.91L416.2 149.66L416.9 150.02L417.6 149.89L418.3 150.06L419.0 150.43L419.7 150.73L420.4 150.68L421.1 150.77L421.8 151.31L422.5 151.59L423.2 151.74L423.9 151.72L424.6 151.46L425.3 151.49L426.0 151.69L426.7 151.66L427.4 151.39L428.1 151.26L428.8 151.28L429.5 151.19L430.2 150.98L430.9 150.92L431.6 151.13L432.3 151.19L433.0 151.24L433.7 151.48L434.4 151.84L435.1 152.07L435.8 151.65L436.5 151.23L437.2 151.33L437.9 151.47L438.6 151.50L439.3 151.36L440.0 151.24L440.7 151.28L441.4 151.13L442.1 150.96L442.8 151.19L443.5 151.65L444.2 151.85L444.9 151.62L445.6 151.54L446.3 151.76L447.0 152.01L447.7 152.14L448.4 151.95L449.1 151.84L449.8 152.13L450.5 152.10L451.2 151.70L451.9 151.38L452.6 151.17L453.3 151.21L454.0 151.33L454.7 151.40L455.4 151.45L456.1 151.51L456.8 151.64L457.5 151.77L458.2 151.68L458.9 151.36L459.6 151.39L460.3 151.95L461.0 152.08L461.7 151.77L462.4 151.53L463.1 151.13L463.8 151.02L464.5 151.56L465.2 151.84L465.9 151.46L466.6 151.50L467.3 151.70L468.0 151.45L468.7 151.63L469.4 151.82L470.1 151.67L470.8 151.99L471.5 152.17L472.2 151.64L472.9 151.38L473.6 151.44L474.3 151.26L475.0 151.40L475.7 151.88L476.4 151.65L477.1 151.12L477.8 151.27L478.5 151.68L479.2 151.58L479.9 151.29L480.6 151.43L481.3 151.70L482.0 151.78L482.7 151.52L483.4 151.42L484.1 151.85L484.8 152.10L485.5 152.42L486.2 152.50L486.9 151.74L487.6 151.36L488.3 151.61L489.0 151.58L489.7 151.30L490.4 151.46L491.1 151.80L491.8 151.48L492.5 151.09L493.2 151.12L493.9 151.22L494.6 151.39L495.3 151.33L496.0 151.30L496.7 151.48L497.4 151.54L498.1 151.79L498.8 151.89L499.5 151.51L500.2 151.34L500.9 151.60L501.6 151.76L502.3 151.64L503.0 151.54L503.7 151.56L504.4 151.66L505.1 151.61L505.8 151.34L506.5 151.29L507.2 151.36L507.9 151.34L508.6 151.50L509.3 151.63L510.0 151.46L510.7 151.22L511.4 151.42L512.1 151.91L512.8 151.76L513.5 151.18L514.2 151.34L514.9 152.00L515.6 152.07L516.3 151.81L517.0 151.56L517.7 151.21L518.4 151.34L519.1 151.38L519.8 150.95L520.5 151.08L521.2 151.65L521.9 151.71L522.6 151.43L523.3 151.59L524.0 151.78L524.7 151.32L525.4 150.99L526.1 151.14L526.8 151.43L527.5 151.66L528.2 151.46L528.9 151.47L529.6 151.78L530.3 151.57L531.0 151.47L531.7 151.65L532.4 151.62L533.1 151.52L533.8 151.46L534.5 151.17L535.2 150.89L535.9 151.01L536.6 151.16L537.3 151.20L538.0 151.17L538.7 151.25L539.4 151.66L540.1 151.47L540.8 150.82L541.5 150.79L542.2 150.63L542.9 150.42L543.6 150.79L544.3 150.91L545.0 150.77L545.7 150.92L546.4 151.29L547.1 151.38L547.8 151.16L548.5 150.97L549.2 150.78L549.9 150.54L550.6 150.34L551.3 150.19L552.0 150.07L552.7 150.08L553.4 149.99L554.1 149.66L554.8 149.52L555.5 148.78L556.2 147.23L556.9 146.10L557.6 145.13L558.3 144.00L559.0 143.41L559.0 143.61L559.7 143.71L560.4 144.08L561.1 144.67L561.8 144.96L562.5 145.46L563.2 146.59L563.9 147.32L564.6 147.85L565.3 148.57L566.0 148.79L566.7 149.05L567.4 149.60L568.1 149.75L568.8 150.01L569.5 150.57L570.2 151.01L570.9 151.09L571.6 150.77L572.3 150.51L573.0 150.72L573.7 151.27L574.4 151.51L575.1 151.17L575.8 150.95L576.5 151.07L577.2 150.94L577.9 150.79L578.6 150.94L579.3 151.14L580.0 151.27L580.7 151.46L581.4 151.53L582.1 151.02L582.8 150.30L583.5 150.33L584.2 150.85L584.9 151.31L585.6 151.56L586.3 151.27L587.0 151.10L587.7 151.37L588.4 151.37L589.1 151.14L589.8 150.94L590.5 150.63L591.2 150.73L591.9 150.94L592.6 150.80L593.3 150.97L594.0 151.14L594.7 151.03L595.4 150.82L596.1 150.05L596.8 148.88L597.5 148.02L598.2 147.55L598.8 147.41L598.9 147.17L599.6 147.70L600.3 148.98L601.0 149.85L601.7 149.86L602.4 150.07L603.1 150.40L603.8 150.36L604.5 150.59L605.2 150.61L605.9 150.40L606.6 150.50L607.3 150.66L608.0 150.92L608.7 151.26L609.4 151.38L610.1 151.16L610.8 150.92L611.5 150.83L612.2 151.02L612.9 150.98L613.6 150.68L614.3 150.79L615.0 150.87L615.7 150.88L616.4 151.04L617.1 151.04L617.8 150.70L618.5 150.27L619.2 149.93L619.9 149.62L620.0 149.58L620.6 149.91L621.3 150.43L622.0 150.65L622.7 150.57L623.4 150.44L624.1 150.38L624.8 150.43L625.5 150.65L626.2 150.83L626.9 151.36L627.6 151.60L628.3 151.11L629.0 150.88L629.7 150.54L630.4 149.84L631.1 149.42L631.8 149.41L632.5 149.46L632.5 149.07L633.2 148.74L633.9 149.15L634.6 150.01L635.3 150.68L636.0 150.82L636.7 150.93L637.4 151.06L638.1 150.87L638.8 150.75L639.5 150.56L640.2 150.44L640.9 150.81L641.6 151.16L642.3 151.03L643.0 150.61L643.7 150.65L644.4 151.06L645.1 151.26L645.8 151.17L646.5 150.88L647.2 150.75L647.9 150.79L648.6 150.83L649.3 150.88L650.0 151.10L650.7 151.31L651.4 150.97L652.1 150.64L652.8 150.95L653.5 150.98L654.2 150.56L654.9 150.53L655.6 150.84L656.3 150.96L657.0 150.63L657.7 150.44L658.4 150.75L659.1 151.24L659.8 151.33L660.5 151.15L661.2 151.54L661.9 151.64L662.6 151.35L663.3 151.31L664.0 151.19L664.7 151.00L665.4 150.78L666.1 150.63L666.8 150.38L667.5 150.26L668.2 150.47L668.9 150.68L669.6 151.02L670.3 151.17L671.0 150.92L671.7 150.80L672.4 150.62L673.1 150.41L673.8 150.63L674.5 150.79L675.2 150.60L675.9 150.21L676.6 150.07L677.3 150.45L678.0 150.92L678.7 151.21L679.4 151.31L680.1 151.21L680.8 151.05L681.5 150.91L682.2 150.74L682.9 150.77L683.6 151.10L684.3 151.19L685.0 150.49L685.7 149.94L686.4 149.82L687.1 149.14L687.8 148.14L688.5 146.87L689.2 145.76L689.7 145.79L689.9 145.80L690.6 146.42L691.3 147.66L692.0 148.79L692.7 149.54L693.4 149.78L694.1 149.81L694.8 149.95L695.5 150.20L696.2 150.32L696.9 150.25L697.6 150.41L698.3 150.90L699.0 151.27L699.7 150.67L700.4 149.84L701.1 149.99L701.8 150.42L702.5 150.77L703.2 151.06L703.9 150.61L704.6 150.06L705.3 150.29L706.0 150.58L706.7 150.71L707.4 150.63L708.1 150.35L708.8 150.15L709.5 149.81L710.2 149.69L710.9 149.80L711.6 149.26L712.3 147.63L713.0 146.14L713.7 145.78L713.8 146.02L714.4 146.63L715.1 147.46L715.8 148.44L716.5 149.53L717.2 150.07L717.9 150.10L718.6 150.15L719.3 150.43L720.0 150.49L720.7 150.38L721.4 150.07L722.1 149.89L722.8 150.22L723.5 150.68L724.2 150.94L724.9 150.86L725.6 150.80L726.3 151.14L727.0 151.26L727.7 150.84L728.4 150.69L729.1 150.65L729.8 150.48L730.5 150.54L731.2 150.56L731.9 150.15L732.6 149.97L733.3 150.12L734.0 150.25L734.7 150.62L735.4 150.69L736.1 150.48L736.8 150.47L737.5 150.36L738.2 150.33L738.9 150.63L739.6 150.85L740.3 150.48L741.0 149.98L741.7 150.08L742.4 150.19L743.1 149.81L743.8 149.66L744.5 149.44L745.2 149.00L745.9 149.21L746.6 149.47L747.3 149.03L748.0 148.56L748.7 148.56L749.4 148.52" stroke="#ff3cff" stroke-width="1.15" fill="none" stroke-linejoin="round"/>
<path d="M55.0 199.15L55.7 198.62L56.4 198.67L57.1 198.81L57.8 198.74L58.5 198.59L59.2 198.39L59.9 198.53L60.6 199.12L61.3 199.70L62.0 199.37L62.7 198.85L63.4 198.75L64.1 198.61L64.8 198.55L65.5 198.77L66.2 198.98L66.9 199.06L67.6 199.12L68.3 199.01L69.0 199.11L69.7 199.39L70.4 199.20L71.1 198.85L71.8 198.89L72.5 199.28L73.2 199.44L73.9 199.07L74.6 198.95L75.3 199.03L76.0 198.79L76.7 198.85L77.4 199.17L78.1 199.18L78.8 199.09L79.5 198.74L80.2 198.41L80.9 198.69L81.6 198.58L82.3 198.40L83.0 198.85L83.7 199.05L84.4 198.73L85.1 198.57L85.8 198.75L86.5 199.05L87.2 199.32L87.9 199.26L88.6 199.15L89.3 199.14L90.0 198.83L90.7 198.68L91.4 198.96L92.1 199.05L92.8 198.78L93.5 198.66L94.2 198.50L94.9 198.34L95.6 198.77L96.3 198.85L97.0 198.50L97.7 198.53L98.4 198.70L99.1 198.64L99.8 198.29L100.5 198.42L101.2 199.01L101.9 198.90L102.6 198.33L103.3 198.42L104.0 198.70L104.7 198.83L105.4 198.90L106.1 198.66L106.8 198.50L107.5 198.62L108.2 198.85L108.9 198.73L109.6 198.25L110.3 198.26L111.0 198.77L111.7 198.90L112.4 198.77L113.1 198.68L113.8 198.31L114.5 197.82L115.2 197.51L115.9 197.57L116.6 197.51L117.3 196.87L118.0 196.34L118.7 196.00L119.4 195.34L120.1 193.88L120.8 190.97L121.5 186.40L122.2 179.29L122.9 169.09L123.6 161.37L123.6 161.11L124.3 163.27L125.0 169.90L125.7 177.68L126.4 184.83L127.1 189.40L127.8 192.03L128.5 193.47L129.2 194.09L129.9 194.36L130.6 194.20L131.3 192.86L132.0 189.45L132.7 183.43L133.4 174.58L134.1 164.62L134.5 161.27L134.8 161.10L135.5 166.74L136.2 173.98L136.9 181.26L137.6 187.32L138.3 191.40L139.0 193.93L139.7 195.63L140.4 196.55L141.1 196.78L141.8 197.00L142.5 197.38L143.2 197.71L143.9 197.80L144.6 197.52L145.3 197.02L146.0 196.71L146.7 196.72L147.4 196.74L148.1 196.14L148.8 194.91L149.5 193.43L150.2 190.91L150.9 185.92L151.6 177.63L152.3 166.63L153.0 158.65L153.0 158.18L153.7 160.30L154.4 167.46L155.1 176.15L155.8 184.65L156.5 190.26L157.2 193.30L157.9 195.06L158.6 196.14L159.3 196.62L160.0 196.84L160.7 197.33L161.4 197.77L162.1 197.87L162.8 197.97L163.5 198.12L164.2 198.46L164.9 198.76L165.6 198.70L166.3 198.80L167.0 199.11L167.7 199.37L168.4 199.18L169.1 198.78L169.8 198.91L170.5 199.05L171.2 199.16L171.9 199.47L172.6 199.63L173.3 199.57L174.0 199.54L174.7 199.58L175.4 199.32L176.1 199.25L176.8 199.35L177.5 199.48L178.2 199.86L178.9 200.07L179.6 199.95L180.3 199.51L181.0 199.23L181.7 199.40L182.4 199.45L183.1 199.32L183.8 199.35L184.5 199.58L185.2 199.66L185.9 199.51L186.6 199.45L187.3 199.20L188.0 198.95L188.7 198.91L189.4 198.99L190.1 199.37L190.8 199.65L191.5 199.59L192.2 199.72L192.9 199.85L193.6 199.61L194.3 199.35L195.0 199.03L195.7 198.91L196.4 198.99L197.1 198.91L197.8 199.06L198.5 199.25L199.2 199.20L199.9 198.79L200.6 198.36L201.3 198.06L202.0 197.39L202.7 196.40L203.4 195.04L204.1 193.23L204.8 191.62L205.2 191.24L205.5 191.25L206.2 192.46L206.9 194.39L207.6 196.19L208.3 197.72L209.0 198.33L209.7 198.23L210.4 198.58L211.1 198.84L211.8 198.89L212.5 199.14L213.2 198.99L213.9 198.79L214.6 199.06L215.3 199.34L216.0 199.29L216.7 199.24L217.4 199.57L218.1 199.62L218.8 199.24L219.5 199.21L220.2 199.37L220.9 199.62L221.6 199.95L222.3 199.71L223.0 199.25L223.7 199.25L224.4 199.76L225.1 200.13L225.8 199.85L226.5 199.67L227.2 199.74L227.9 199.94L228.6 200.10L229.3 199.84L230.0 199.74L230.7 199.81L231.4 199.62L232.1 199.59L232.8 199.86L233.5 199.77L234.2 199.45L234.9 199.24L235.6 199.32L236.3 199.71L237.0 199.94L237.7 199.97L238.4 199.98L239.1 199.80L239.8 199.65L240.5 199.70L241.2 199.62L241.9 199.48L242.6 199.63L243.3 199.68L244.0 199.35L244.7 199.13L245.4 199.37L246.1 199.42L246.8 198.90L247.5 198.46L248.2 198.38L248.9 198.01L249.6 197.27L250.3 197.03L251.0 196.62L251.7 195.75L252.4 195.07L253.1 194.01L253.8 192.72L254.5 191.67L255.2 190.85L255.8 191.00L255.9 191.38L256.6 191.66L257.3 192.47L258.0 193.41L258.7 194.32L259.4 194.90L260.1 195.27L260.8 196.24L261.5 197.08L262.2 197.31L262.9 197.70L263.6 198.29L264.3 198.37L265.0 198.30L265.7 198.77L266.4 199.23L267.1 199.37L267.8 199.71L268.5 199.92L269.2 199.54L269.9 199.09L270.6 199.11L271.3 199.56L272.0 199.91L272.7 199.94L273.4 199.84L274.1 199.74L274.8 199.74L275.5 199.68L276.2 199.52L276.9 199.28L277.6 199.24L278.3 199.42L279.0 199.43L279.7 199.61L280.4 199.95L281.1 200.35L281.8 200.77L282.5 200.47L283.2 200.02L283.9 200.13L284.6 200.09L285.3 200.00L286.0 200.10L286.7 199.57L287.4 199.26L288.1 199.77L288.8 200.17L289.5 200.26L290.2 199.93L290.9 199.87L291.6 200.16L292.3 200.01L293.0 200.16L293.7 200.47L294.4 200.27L295.1 200.08L295.8 200.20L296.5 200.20L297.2 200.06L297.9 200.21L298.6 200.60L299.3 200.70L300.0 200.19L300.7 199.92L301.4 200.12L302.1 200.13L302.8 200.14L303.5 200.32L304.2 200.33L304.9 200.07L305.6 199.68L306.3 199.35L307.0 199.76L307.7 200.30L308.4 200.04L309.1 199.70L309.8 199.79L310.5 200.13L311.2 200.08L311.9 199.92L312.6 200.16L313.3 200.36L314.0 200.25L314.7 200.27L315.4 200.52L316.1 200.42L316.8 200.07L317.5 199.94L318.2 200.09L318.9 200.26L319.6 200.29L320.3 200.42L321.0 200.56L321.7 200.62L322.4 200.47L323.1 199.95L323.8 199.66L324.5 200.04L325.2 200.36L325.9 200.31L326.6 200.20L327.3 200.00L328.0 199.82L328.7 199.97L329.4 200.33L330.1 200.23L330.8 199.81L331.5 199.66L332.2 200.04L332.9 200.46L333.6 200.26L334.3 200.11L335.0 200.49L335.7 200.70L336.4 200.55L337.1 200.49L337.8 200.47L338.5 200.38L339.2 200.16L339.9 200.07L340.6 200.27L341.3 200.45L342.0 200.22L342.7 199.75L343.4 199.94L344.1 200.17L344.8 199.94L345.5 199.98L346.2 200.10L346.9 199.92L347.6 199.63L348.3 199.69L349.0 200.00L349.7 200.01L350.4 199.67L351.1 199.46L351.8 199.50L352.5 199.36L353.2 198.79L353.9 198.51L354.6 198.52L355.3 198.26L356.0 198.08L356.7 198.06L357.4 197.66L358.1 197.01L358.8 196.12L359.5 194.54L360.2 191.86L360.9 187.06L361.6 181.16L362.1 179.05L362.3 178.98L363.0 181.85L363.7 185.23L364.4 188.21L365.1 191.13L365.8 193.25L366.5 194.39L367.2 194.56L367.9 194.48L368.6 194.58L369.3 194.69L370.0 194.46L370.7 193.78L371.4 192.77L372.1 191.89L372.8 191.08L373.5 190.15L374.2 189.51L374.9 188.94L375.4 188.51L375.6 188.48L376.3 189.06L377.0 190.19L377.7 190.99L378.4 191.07L379.1 190.89L379.8 190.60L380.5 190.03L381.2 187.67L381.9 182.51L382.6 175.07L383.2 170.68L383.3 170.69L384.0 174.40L384.7 179.95L385.4 186.10L386.1 190.91L386.8 193.35L387.5 195.04L388.2 196.50L388.9 197.12L389.6 197.34L390.3 197.81L391.0 198.25L391.7 198.62L392.4 198.99L393.1 199.34L393.8 199.71L394.5 199.82L395.2 199.74L395.9 199.87L396.6 199.98L397.3 199.68L398.0 199.43L398.7 199.66L399.4 199.95L400.1 200.08L400.8 199.97L401.5 199.88L402.2 200.06L402.9 200.19L403.6 199.92L404.3 199.67L405.0 199.64L405.7 199.56L406.4 199.54L407.1 199.53L407.8 199.67L408.5 199.69L409.2 199.18L409.9 198.73L410.6 198.55L411.3 198.16L412.0 197.47L412.7 197.02L413.4 196.91L414.1 196.72L414.8 196.41L415.1 196.16L415.5 196.22L416.2 196.86L416.9 197.50L417.6 197.75L418.3 198.05L419.0 198.33L419.7 198.45L420.4 198.74L421.1 199.14L421.8 199.45L422.5 199.45L423.2 199.53L423.9 200.14L424.6 200.41L425.3 200.13L426.0 200.09L426.7 200.25L427.4 200.11L428.1 200.03L428.8 200.29L429.5 200.39L430.2 200.44L430.9 200.32L431.6 200.10L432.3 200.25L433.0 200.34L433.7 200.10L434.4 200.00L435.1 199.89L435.8 199.96L436.5 200.48L437.2 200.61L437.9 200.53L438.6 200.49L439.3 200.23L440.0 200.41L440.7 200.89L441.4 200.53L442.1 199.50L442.8 199.12L443.5 199.82L444.2 200.45L444.9 200.36L445.6 200.34L446.3 200.40L447.0 200.27L447.7 200.44L448.4 200.68L449.1 200.67L449.8 200.49L450.5 200.37L451.2 200.41L451.9 200.54L452.6 201.02L453.3 201.14L454.0 200.29L454.7 199.74L455.4 200.10L456.1 200.61L456.8 200.88L457.5 200.75L458.2 200.29L458.9 200.31L459.6 200.53L460.3 200.48L461.0 200.56L461.7 200.63L462.4 200.71L463.1 200.83L463.8 200.85L464.5 200.65L465.2 200.36L465.9 200.43L466.6 200.56L467.3 200.71L468.0 200.79L468.7 200.48L469.4 200.18L470.1 200.18L470.8 200.41L471.5 200.53L472.2 200.51L472.9 200.69L473.6 200.66L474.3 200.28L475.0 200.13L475.7 200.44L476.4 200.43L477.1 200.24L477.8 200.72L478.5 201.04L479.2 200.79L479.9 200.90L480.6 201.24L481.3 200.92L482.0 200.34L482.7 200.28L483.4 200.35L484.1 200.05L484.8 199.88L485.5 200.21L486.2 200.35L486.9 200.33L487.6 200.48L488.3 200.54L489.0 200.31L489.7 200.20L490.4 200.57L491.1 200.74L491.8 200.62L492.5 200.68L493.2 200.52L493.9 200.43L494.6 200.55L495.3 200.44L496.0 200.42L496.7 200.38L497.4 200.21L498.1 199.96L498.8 200.08L499.5 200.49L500.2 200.48L500.9 200.27L501.6 200.24L502.3 200.17L503.0 199.85L503.7 199.80L504.4 199.99L505.1 199.95L505.8 199.97L506.5 200.13L507.2 200.18L507.9 200.38L508.6 200.75L509.3 200.85L510.0 200.66L510.7 200.31L511.4 199.91L512.1 199.74L512.8 199.68L513.5 199.56L514.2 199.89L514.9 200.51L515.6 200.81L516.3 200.52L517.0 200.14L517.7 200.09L518.4 200.13L519.1 200.25L519.8 200.33L520.5 200.67L521.2 201.01L521.9 200.98L522.6 200.85L523.3 200.42L524.0 200.22L524.7 200.62L525.4 200.63L526.1 200.18L526.8 199.86L527.5 199.71L528.2 199.96L528.9 200.25L529.6 200.08L530.3 199.72L531.0 199.67L531.7 200.05L532.4 200.35L533.1 200.30L533.8 199.99L534.5 199.93L535.2 200.26L535.9 200.17L536.6 200.01L537.3 199.85L538.0 199.49L538.7 199.63L539.4 199.92L540.1 200.15L540.8 200.33L541.5 199.93L542.2 199.41L542.9 199.54L543.6 199.83L544.3 199.68L545.0 199.25L545.7 199.22L546.4 199.66L547.1 199.80L547.8 199.43L548.5 199.34L549.2 199.36L549.9 198.88L550.6 199.15L551.3 199.70L552.0 199.37L552.7 198.86L553.4 198.68L554.1 198.56L554.8 198.08L555.5 197.69L556.2 197.15L556.9 196.37L557.6 195.54L558.3 194.33L559.0 193.44L559.7 193.16L559.7 193.25L560.4 193.52L561.1 193.99L561.8 194.22L562.5 194.49L563.2 194.98L563.9 195.75L564.6 196.58L565.3 197.17L566.0 197.67L566.7 197.96L567.4 198.26L568.1 198.61L568.8 198.68L569.5 199.04L570.2 199.34L570.9 199.10L571.6 198.92L572.3 198.87L573.0 198.87L573.7 198.94L574.4 199.12L575.1 199.33L575.8 199.68L576.5 199.98L577.2 199.90L577.9 199.76L578.6 199.62L579.3 199.42L580.0 199.13L580.7 199.06L581.4 199.61L582.1 200.09L582.8 199.87L583.5 199.75L584.2 199.91L584.9 199.64L585.6 199.26L586.3 199.12L587.0 199.19L587.7 199.68L588.4 200.04L589.1 199.66L589.8 199.23L590.5 199.26L591.2 199.21L591.9 199.10L592.6 199.42L593.3 199.71L594.0 199.67L594.7 199.38L595.4 198.76L596.1 198.55L596.8 198.76L597.5 198.00L598.2 196.63L598.8 196.36L598.9 196.63L599.6 197.38L600.3 198.16L601.0 198.65L601.7 199.07L602.4 199.30L603.1 199.11L603.8 198.55L604.5 198.35L605.2 198.68L605.9 198.99L606.6 199.43L607.3 199.73L608.0 199.60L608.7 199.44L609.4 199.60L610.1 199.69L610.8 199.55L611.5 199.70L612.2 199.78L612.9 199.78L613.6 199.73L614.3 199.52L615.0 199.40L615.7 199.12L616.4 198.82L617.1 198.85L617.8 198.83L618.5 198.49L619.2 197.96L619.9 197.53L620.6 197.75L620.6 198.02L621.3 198.15L622.0 198.69L622.7 199.24L623.4 199.54L624.1 199.19L624.8 198.99L625.5 199.39L626.2 199.28L626.9 198.91L627.6 198.77L628.3 198.75L629.0 198.86L629.7 199.10L630.4 199.47L631.1 199.20L631.8 198.37L632.5 197.99L633.2 197.72L633.9 197.28L634.6 197.20L635.0 197.28L635.3 197.17L636.0 197.60L636.7 198.45L637.4 199.19L638.1 199.40L638.8 199.32L639.5 199.24L640.2 199.15L640.9 199.10L641.6 199.14L642.3 199.16L643.0 198.93L643.7 198.88L644.4 199.23L645.1 199.25L645.8 198.93L646.5 198.99L647.2 199.29L647.9 199.26L648.6 199.12L649.3 199.18L650.0 199.41L650.7 199.67L651.4 199.43L652.1 198.74L652.8 198.57L653.5 199.17L654.2 199.60L654.9 199.57L655.6 199.44L656.3 199.08L657.0 198.95L657.7 199.28L658.4 199.45L659.1 199.25L659.8 199.00L660.5 199.03L661.2 199.20L661.9 199.27L662.6 199.10L663.3 198.92L664.0 199.14L664.7 199.45L665.4 199.27L666.1 198.88L666.8 198.71L667.5 198.98L668.2 199.18L668.9 198.79L669.6 198.80L670.3 199.36L671.0 199.51L671.7 199.35L672.4 199.41L673.1 199.54L673.8 199.47L674.5 199.46L675.2 199.55L675.9 199.55L676.6 199.36L677.3 199.12L678.0 199.01L678.7 198.68L679.4 198.58L680.1 198.87L680.8 198.93L681.5 198.87L682.2 198.96L682.9 199.20L683.6 198.96L684.3 198.59L685.0 198.79L685.7 198.83L686.4 198.52L687.1 198.57L687.8 198.54L688.5 197.58L689.2 196.01L689.9 194.56L690.6 193.81L690.6 193.24L691.3 193.59L692.0 195.27L692.7 196.94L693.4 198.13L694.1 198.36L694.8 198.10L695.5 198.25L696.2 198.57L696.9 198.53L697.6 198.53L698.3 198.73L699.0 198.86L699.7 198.90L700.4 199.06L701.1 199.42L701.8 199.25L702.5 198.98L703.2 199.31L703.9 199.36L704.6 199.07L705.3 198.84L706.0 198.82L706.7 198.89L707.4 198.91L708.1 199.02L708.8 198.80L709.5 198.40L710.2 198.42L710.9 198.58L711.6 198.27L712.3 197.54L713.0 196.62L713.7 195.33L714.4 193.73L715.0 193.37L715.1 193.84L715.8 194.65L716.5 195.79L717.2 196.99L717.9 198.15L718.6 198.68L719.3 198.56L720.0 198.47L720.7 198.64L721.4 199.07L722.1 198.99L722.8 198.74L723.5 198.95L724.2 199.01L724.9 198.92L725.6 198.79L726.3 198.55L727.0 198.60L727.7 198.82L728.4 198.69L729.1 198.75L729.8 199.10L730.5 198.86L731.2 198.48L731.9 198.57L732.6 198.93L733.3 199.08L734.0 199.01L734.7 198.77L735.4 198.39L736.1 198.36L736.8 198.53L737.5 198.68L738.2 198.53L738.9 198.59L739.6 199.05L740.3 198.82L741.0 198.66L741.7 198.89L742.4 198.83L743.1 198.21L743.8 197.48L744.5 197.65L745.2 197.96L745.9 197.56L746.6 196.92L747.3 196.76L748.0 197.14L748.7 197.01L749.4 196.56" stroke="#ff7f2a" stroke-width="1.15" fill="none" stroke-linejoin="round"/>
<path d="M55.0 243.26L55.7 243.53L56.4 243.92L57.1 243.61L57.8 243.11L58.5 243.16L59.2 243.30L59.9 243.20L60.6 243.09L61.3 243.33L62.0 243.72L62.7 243.90L63.4 243.77L64.1 243.41L64.8 243.40L65.5 243.57L66.2 243.37L66.9 243.42L67.6 243.37L68.3 243.08L69.0 243.07L69.7 243.22L70.4 243.42L71.1 243.62L71.8 243.55L72.5 243.14L73.2 243.07L73.9 243.29L74.6 243.23L75.3 242.93L76.0 243.08L76.7 243.23L77.4 243.18L78.1 243.48L78.8 243.69L79.5 243.79L80.2 243.63L80.9 243.16L81.6 243.04L82.3 243.33L83.0 243.65L83.7 243.59L84.4 243.23L85.1 243.03L85.8 243.02L86.5 243.09L87.2 243.21L87.9 243.55L88.6 243.78L89.3 243.44L90.0 243.26L90.7 243.30L91.4 243.11L92.1 243.13L92.8 243.39L93.5 243.36L94.2 243.27L94.9 243.46L95.6 243.43L96.3 243.42L97.0 243.63L97.7 243.71L98.4 243.67L99.1 243.47L99.8 243.35L100.5 243.23L101.2 243.21L101.9 243.34L102.6 243.05L103.3 243.08L104.0 243.56L104.7 243.28L105.4 243.11L106.1 243.44L106.8 243.42L107.5 243.24L108.2 242.98L108.9 242.68L109.6 242.32L110.3 242.16L111.0 242.42L111.7 242.81L112.4 243.28L113.1 243.28L113.8 242.77L114.5 242.53L115.2 242.30L115.9 241.86L116.6 241.37L117.3 241.01L118.0 240.76L118.7 240.40L119.4 239.88L120.1 239.09L120.8 237.74L121.5 234.93L122.2 230.06L122.9 222.32L123.6 211.71L124.3 203.94L124.3 203.86L125.0 205.39L125.7 211.66L126.4 219.46L127.1 227.01L127.8 232.23L128.5 235.17L129.2 236.62L129.9 237.28L130.6 237.57L131.3 236.98L132.0 235.36L132.7 232.31L133.4 226.55L134.1 217.61L134.8 207.03L135.3 202.06L135.5 201.40L136.2 205.03L136.9 212.14L137.6 221.08L138.3 228.69L139.0 233.89L139.7 237.49L140.4 239.26L141.1 239.86L141.8 240.46L142.5 241.15L143.2 241.41L143.9 241.23L144.6 241.28L145.3 241.44L146.0 241.29L146.7 241.05L147.4 240.50L148.1 239.53L148.8 238.32L149.5 236.83L150.2 235.03L150.9 231.19L151.6 223.83L152.3 213.27L153.0 202.32L153.3 199.51L153.7 199.27L154.4 204.64L155.1 212.60L155.8 221.85L156.5 229.35L157.2 234.04L157.9 236.38L158.6 237.39L159.3 238.11L159.5 238.19L160.0 238.81L160.7 239.94L161.4 240.77L162.1 241.43L162.8 241.91L163.5 242.10L164.2 242.28L164.9 242.72L165.6 243.08L166.3 243.33L167.0 243.59L167.7 243.11L168.4 242.49L169.1 243.05L169.8 243.74L170.5 243.58L171.2 243.25L171.9 243.40L172.6 243.89L173.3 244.07L174.0 243.95L174.7 244.00L175.4 244.17L176.1 243.91L176.8 243.59L177.5 243.77L178.2 243.86L178.9 243.84L179.6 243.94L180.3 243.51L181.0 243.25L181.7 243.95L182.4 244.25L183.1 243.87L183.8 243.75L184.5 243.69L185.2 243.59L185.9 243.74L186.6 243.79L187.3 243.63L188.0 243.51L188.7 243.72L189.4 244.23L190.1 244.40L190.8 244.16L191.5 243.81L192.2 243.72L192.9 244.12L193.6 244.13L194.3 243.77L195.0 243.63L195.7 243.35L196.4 243.45L197.1 243.60L197.8 243.19L198.5 243.08L199.2 243.48L199.9 243.58L200.6 243.38L201.3 243.12L202.0 242.69L202.7 242.12L203.4 240.90L204.1 239.14L204.8 237.27L205.5 235.96L205.8 236.18L206.2 236.56L206.9 237.73L207.6 239.16L208.3 240.44L209.0 241.60L209.7 242.53L210.4 243.03L211.1 243.30L211.8 243.56L212.5 243.58L213.2 243.32L213.9 243.51L214.6 244.11L215.3 244.19L216.0 244.07L216.7 244.15L217.4 243.96L218.1 243.65L218.8 243.66L219.5 244.04L220.2 244.31L220.9 244.44L221.6 244.42L222.3 244.25L223.0 244.32L223.7 244.43L224.4 244.23L225.1 244.10L225.8 244.25L226.5 244.48L227.2 244.73L227.9 244.75L228.6 244.55L229.3 244.40L230.0 244.24L230.7 244.26L231.4 244.50L232.1 244.70L232.8 244.48L233.5 244.20L234.2 244.29L234.9 244.28L235.6 244.08L236.3 243.91L237.0 244.20L237.7 244.70L238.4 244.60L239.1 244.20L239.8 243.76L240.5 243.60L241.2 243.82L241.9 244.02L242.6 243.99L243.3 243.81L244.0 244.04L244.7 244.11L245.4 243.77L246.1 243.60L246.8 243.40L247.5 243.35L248.2 243.50L248.9 243.30L249.6 242.66L250.3 242.28L251.0 241.83L251.7 240.91L252.4 240.06L253.1 239.14L253.8 238.26L254.5 237.60L255.2 237.05L255.9 236.65L256.6 236.26L256.7 235.90L257.3 235.70L258.0 236.17L258.7 236.88L259.4 237.86L260.1 239.26L260.8 240.04L261.5 240.53L262.2 241.46L262.9 242.46L263.6 242.95L264.3 243.04L265.0 243.25L265.7 243.32L266.4 243.34L267.1 243.63L267.8 243.65L268.5 243.67L269.2 243.87L269.9 243.82L270.6 243.84L271.3 243.82L272.0 243.78L272.7 244.05L273.4 244.21L274.1 244.06L274.8 244.33L275.5 244.64L276.2 244.40L276.9 244.40L277.6 244.52L278.3 244.45L279.0 244.43L279.7 244.46L280.4 244.60L281.1 244.50L281.8 244.48L282.5 244.76L283.2 244.67L283.9 244.37L284.6 244.25L285.3 244.34L286.0 244.53L286.7 244.77L287.4 244.74L288.1 244.39L288.8 244.53L289.5 244.92L290.2 244.89L290.9 244.97L291.6 245.14L292.3 245.00L293.0 244.81L293.7 244.93L294.4 245.23L295.1 245.06L295.8 244.69L296.5 244.58L297.2 244.59L297.9 244.89L298.6 244.96L299.3 244.67L300.0 244.34L300.7 244.28L301.4 244.64L302.1 244.71L302.8 244.68L303.5 244.75L304.2 244.54L304.9 244.37L305.6 244.27L306.3 244.57L307.0 245.10L307.7 244.90L308.4 244.69L309.1 244.48L309.8 244.01L310.5 244.29L311.2 244.57L311.9 244.50L312.6 244.43L313.3 244.24L314.0 244.54L314.7 244.62L315.4 244.05L316.1 244.01L316.8 244.44L317.5 244.55L318.2 244.53L318.9 244.68L319.6 244.57L320.3 244.31L321.0 244.27L321.7 244.02L322.4 243.63L323.1 243.87L323.8 244.54L324.5 244.93L325.2 244.88L325.9 244.42L326.6 244.35L327.3 244.60L328.0 244.64L328.7 244.70L329.4 244.59L330.1 244.14L330.8 243.78L331.5 244.24L332.2 244.96L332.9 245.13L333.6 244.91L334.3 244.55L335.0 244.31L335.7 244.34L336.4 244.52L337.1 244.64L337.8 244.86L338.5 244.90L339.2 244.60L339.9 244.39L340.6 244.35L341.3 244.51L342.0 244.46L342.7 244.37L343.4 244.64L344.1 244.81L344.8 244.50L345.5 244.06L346.2 243.98L346.9 244.09L347.6 243.99L348.3 243.95L349.0 244.16L349.7 244.16L350.4 244.01L351.1 244.25L351.8 244.21L352.5 243.80L353.2 244.09L353.9 244.18L354.6 243.60L355.3 243.14L356.0 242.80L356.7 242.64L357.4 242.44L358.1 241.92L358.8 241.08L359.5 239.96L360.2 238.18L360.9 234.86L361.6 229.85L362.3 225.57L362.4 225.31L363.0 226.77L363.7 229.89L364.4 232.00L365.1 234.79L365.8 237.02L366.5 238.05L367.2 238.61L367.9 238.91L368.6 239.10L369.3 239.01L370.0 238.73L370.7 238.46L371.4 237.96L372.1 237.52L372.8 236.79L373.5 235.74L374.2 235.32L374.9 234.76L375.6 233.77L376.3 233.33L376.4 233.30L377.0 233.34L377.7 233.68L378.4 234.33L379.1 235.22L379.8 235.74L380.5 235.79L381.2 235.34L381.9 233.30L382.6 228.52L383.3 221.47L384.0 216.84L384.0 216.59L384.7 218.46L385.4 223.74L386.1 229.76L386.8 235.09L387.5 238.31L388.2 239.86L388.9 240.95L389.6 241.59L390.3 241.89L391.0 242.38L391.7 242.75L392.4 242.98L393.1 243.04L393.8 242.92L394.5 243.10L395.2 243.52L395.9 243.73L396.6 243.90L397.3 244.08L398.0 243.85L398.7 243.63L399.4 243.81L400.1 244.01L400.8 244.24L401.5 244.51L402.2 244.60L402.9 244.61L403.6 244.48L404.3 244.37L405.0 244.40L405.7 244.27L406.4 244.05L407.1 243.88L407.8 243.88L408.5 243.90L409.2 244.07L409.9 244.42L410.6 244.35L411.3 243.69L412.0 243.04L412.7 242.68L413.4 242.14L414.1 241.53L414.8 241.21L415.5 240.99L415.9 241.09L416.2 241.33L416.9 241.29L417.6 241.54L418.3 242.08L419.0 242.24L419.7 242.38L420.4 242.90L421.1 243.55L421.8 243.93L422.5 243.99L423.2 243.89L423.9 244.03L424.6 244.23L425.3 244.11L426.0 244.04L426.7 244.08L427.4 244.25L428.1 244.63L428.8 244.53L429.5 244.23L430.2 244.52L430.9 244.66L431.6 244.75L432.3 244.85L433.0 244.62L433.7 244.68L434.4 244.84L435.1 244.70L435.8 244.59L436.5 244.75L437.2 244.65L437.9 244.61L438.6 244.99L439.3 244.74L440.0 244.14L440.7 244.53L441.4 245.36L442.1 245.48L442.8 244.90L443.5 244.43L444.2 244.72L444.9 245.14L445.6 245.05L446.3 244.74L447.0 244.75L447.7 244.97L448.4 244.97L449.1 245.00L449.8 245.26L450.5 245.39L451.2 245.18L451.9 244.76L452.6 244.63L453.3 245.07L454.0 245.27L454.7 244.73L455.4 244.27L456.1 244.50L456.8 245.13L457.5 245.53L458.2 245.43L458.9 245.30L459.6 245.40L460.3 245.22L461.0 244.71L461.7 244.43L462.4 244.50L463.1 244.67L463.8 244.83L464.5 244.79L465.2 244.71L465.9 244.73L466.6 245.01L467.3 245.30L468.0 245.40L468.7 245.72L469.4 245.53L470.1 244.97L470.8 245.12L471.5 245.03L472.2 244.72L472.9 244.90L473.6 245.04L474.3 244.92L475.0 244.77L475.7 244.87L476.4 245.02L477.1 244.87L477.8 244.75L478.5 244.70L479.2 244.72L479.9 244.58L480.6 244.53L481.3 245.00L482.0 245.20L482.7 245.17L483.4 245.05L484.1 245.01L484.8 245.21L485.5 244.99L486.2 244.95L486.9 245.23L487.6 245.30L488.3 244.91L489.0 244.61L489.7 244.52L490.4 244.32L491.1 244.50L491.8 244.98L492.5 245.22L493.2 244.99L493.9 244.67L494.6 244.56L495.3 244.53L496.0 244.74L496.7 244.82L497.4 244.63L498.1 244.50L498.8 244.49L499.5 244.70L500.2 244.77L500.9 244.54L501.6 244.61L502.3 244.94L503.0 245.22L503.7 245.21L504.4 244.85L505.1 244.42L505.8 244.45L506.5 245.05L507.2 245.37L507.9 245.34L508.6 245.26L509.3 244.91L510.0 244.91L510.7 245.09L511.4 244.89L512.1 244.94L512.8 245.06L513.5 245.17L514.2 245.20L514.9 244.80L515.6 244.38L516.3 244.15L517.0 244.26L517.7 244.54L518.4 244.66L519.1 244.78L519.8 244.81L520.5 244.46L521.2 244.28L521.9 244.68L522.6 244.81L523.3 244.49L524.0 244.70L524.7 245.29L525.4 245.43L526.1 245.30L526.8 245.14L527.5 244.86L528.2 244.77L528.9 244.85L529.6 244.76L530.3 244.65L531.0 244.72L531.7 244.87L532.4 244.87L533.1 244.95L533.8 245.14L534.5 244.76L535.2 244.63L535.9 244.82L536.6 244.58L537.3 244.50L538.0 244.29L538.7 243.90L539.4 244.07L540.1 244.34L540.8 244.54L541.5 244.82L542.2 245.05L542.9 245.25L543.6 245.28L544.3 245.01L545.0 244.80L545.7 244.65L546.4 244.35L547.1 244.47L547.8 244.85L548.5 244.55L549.2 243.95L549.9 244.00L550.6 244.35L551.3 244.42L552.0 244.00L552.7 243.24L553.4 242.93L554.1 242.88L554.8 242.58L555.5 242.26L556.2 241.82L556.9 241.05L557.6 240.08L558.3 239.14L559.0 238.24L559.7 237.39L559.7 237.28L560.4 237.65L561.1 238.18L561.8 238.64L562.5 238.92L563.2 239.27L563.9 240.10L564.6 240.72L565.3 241.44L566.0 242.41L566.7 242.88L567.4 243.28L568.1 243.89L568.8 243.95L569.5 243.48L570.2 243.64L570.9 244.07L571.6 243.67L572.3 243.35L573.0 243.96L573.7 244.53L574.4 244.65L575.1 244.54L575.8 244.41L576.5 244.49L577.2 244.47L577.9 244.44L578.6 244.60L579.3 244.57L580.0 244.50L580.7 244.83L581.4 245.04L582.1 244.57L582.8 244.05L583.5 244.30L584.2 244.50L584.9 244.45L585.6 244.48L586.3 244.50L587.0 244.82L587.7 244.84L588.4 244.76L589.1 245.01L589.8 244.99L590.5 244.63L591.2 244.43L591.9 244.79L592.6 245.20L593.3 244.93L594.0 244.61L594.7 245.00L595.4 245.28L596.1 244.93L596.8 244.35L597.5 243.94L598.2 243.90L598.9 244.03L599.6 244.05L600.3 243.61L601.0 242.49L601.7 241.48L602.2 241.32L602.4 241.62L603.1 242.47L603.8 243.16L604.5 243.88L605.2 244.29L605.9 244.31L606.6 244.53L607.3 244.47L608.0 244.18L608.7 244.22L609.4 244.61L610.1 244.62L610.8 244.32L611.5 244.49L612.2 244.54L612.9 244.37L613.6 244.47L614.3 244.56L615.0 244.66L615.7 244.65L616.4 244.67L617.1 245.01L617.8 244.87L618.5 244.10L619.2 243.66L619.9 243.63L620.6 243.46L621.3 243.27L621.6 243.50L622.0 243.64L622.7 243.85L623.4 244.10L624.1 244.18L624.8 244.42L625.5 244.77L626.2 244.62L626.9 244.40L627.6 244.43L628.3 244.60L629.0 244.64L629.7 244.33L630.4 244.10L631.1 244.10L631.8 243.87L632.5 243.64L633.2 243.44L633.9 242.70L634.6 242.14L635.0 242.64L635.3 243.11L636.0 243.74L636.7 244.10L637.4 243.77L638.1 243.83L638.8 244.36L639.5 244.57L640.2 244.39L640.9 244.48L641.6 244.64L642.3 244.48L643.0 244.63L643.7 244.84L644.4 244.75L645.1 244.73L645.8 244.46L646.5 244.11L647.2 244.23L647.9 244.44L648.6 244.49L649.3 244.61L650.0 244.74L650.7 244.74L651.4 244.62L652.1 244.48L652.8 244.44L653.5 244.40L654.2 244.57L654.9 244.62L655.6 244.31L656.3 244.19L657.0 244.12L657.7 244.32L658.4 244.66L659.1 244.77L659.8 244.76L660.5 244.46L661.2 244.28L661.9 244.36L662.6 244.43L663.3 244.42L664.0 244.42L664.7 244.65L665.4 244.84L666.1 244.71L666.8 244.52L667.5 244.36L668.2 244.11L668.9 243.92L669.6 244.06L670.3 244.13L671.0 244.09L671.7 244.35L672.4 244.33L673.1 244.11L673.8 244.29L674.5 244.60L675.2 244.66L675.9 244.78L676.6 245.22L677.3 245.10L678.0 244.53L678.7 244.41L679.4 244.19L680.1 243.93L680.8 244.25L681.5 244.57L682.2 244.40L682.9 244.41L683.6 244.73L684.3 244.64L685.0 244.57L685.7 244.75L686.4 244.42L687.1 243.78L687.8 243.41L688.5 243.23L689.2 242.91L689.9 242.11L690.6 240.65L691.3 239.05L691.6 238.74L692.0 239.28L692.7 240.52L693.4 241.50L694.1 242.49L694.8 243.45L695.5 244.06L696.2 244.13L696.9 244.19L697.6 244.33L698.3 244.07L699.0 244.26L699.7 244.82L700.4 244.68L701.1 244.35L701.8 244.59L702.5 244.88L703.2 244.62L703.9 244.46L704.6 244.49L705.3 244.20L706.0 244.05L706.7 244.05L707.4 244.06L708.1 244.24L708.8 244.21L709.5 244.01L710.2 244.23L710.9 244.44L711.6 244.19L712.3 243.92L713.0 243.40L713.7 242.43L714.4 241.32L715.1 240.07L715.8 239.32L716.0 239.64L716.5 239.89L717.2 240.72L717.9 241.73L718.6 242.35L719.3 242.96L720.0 243.93L720.7 244.05L721.4 243.69L722.1 244.24L722.8 244.90L723.5 244.77L724.2 244.53L724.9 244.36L725.6 244.05L726.3 243.88L727.0 244.05L727.7 244.30L728.4 244.45L729.1 244.78L729.8 245.03L730.5 244.90L731.2 244.67L731.9 244.28L732.6 244.33L733.3 244.91L734.0 245.04L734.7 244.78L735.4 244.27L736.1 244.12L736.8 244.27L737.5 244.02L738.2 244.03L738.9 244.27L739.6 244.48L740.3 244.72L741.0 244.40L741.7 244.03L742.4 244.05L743.1 243.99L743.8 244.07L744.5 243.95L745.2 243.62L745.9 243.46L746.6 243.36L747.3 243.55L748.0 243.78L748.7 243.63L749.4 243.35" stroke="#3c3cff" stroke-width="1.15" fill="none" stroke-linejoin="round"/>
<path d="M55.0 303.39L55.7 303.29L56.4 303.58L57.1 303.97L57.8 304.10L58.5 303.85L59.2 303.52L59.9 303.57L60.6 304.04L61.3 304.28L62.0 303.86L62.7 303.35L63.4 303.55L64.1 304.05L64.8 303.77L65.5 303.32L66.2 303.35L66.9 303.35L67.6 303.37L68.3 303.44L69.0 303.56L69.7 303.77L70.4 303.71L71.1 303.62L71.8 303.86L72.5 303.78L73.2 303.38L73.9 303.33L74.6 303.42L75.3 303.39L76.0 303.37L76.7 303.55L77.4 303.67L78.1 303.50L78.8 303.36L79.5 303.34L80.2 303.21L80.9 303.25L81.6 303.44L82.3 303.59L83.0 303.93L83.7 303.76L84.4 303.31L85.1 303.36L85.8 303.44L86.5 303.55L87.2 303.44L87.9 303.14L88.6 303.32L89.3 303.68L90.0 303.71L90.7 303.57L91.4 303.55L92.1 303.43L92.8 303.32L93.5 303.58L94.2 303.97L94.9 304.27L95.6 304.40L96.3 304.21L97.0 304.03L97.7 303.87L98.4 303.57L99.1 303.70L99.8 303.89L100.5 303.70L101.2 303.59L101.9 303.69L102.6 303.68L103.3 303.53L104.0 303.50L104.7 303.60L105.4 303.47L106.1 303.41L106.8 303.44L107.5 303.10L108.2 302.81L108.9 303.05L109.6 303.40L110.3 303.23L111.0 302.85L111.7 302.87L112.4 302.99L113.1 302.71L113.8 302.61L114.5 302.72L115.2 302.48L115.9 302.35L116.6 302.28L117.3 301.99L118.0 301.87L118.7 301.58L119.4 300.57L120.1 299.18L120.8 297.74L121.5 295.64L122.2 291.40L122.9 283.30L123.6 270.48L124.3 258.05L124.5 256.49L125.0 258.26L125.7 266.99L126.4 276.50L127.1 285.88L127.8 292.47L128.5 295.57L129.2 297.05L129.9 298.20L130.6 298.20L131.3 297.43L132.0 296.30L132.7 293.43L133.4 287.60L134.1 277.59L134.8 264.08L135.4 256.82L135.5 256.80L136.2 262.14L136.9 271.66L137.6 281.53L138.3 289.35L139.0 294.45L139.7 297.33L140.4 298.74L141.1 299.77L141.8 300.72L142.5 301.26L143.2 301.43L143.9 301.71L144.6 301.99L145.3 302.05L146.0 302.02L146.7 301.85L147.4 301.71L148.1 301.50L148.8 300.71L149.5 299.58L150.2 297.94L150.9 294.96L151.6 289.89L152.3 280.92L153.0 267.12L153.7 255.29L153.8 254.21L154.4 257.06L155.1 267.28L155.8 277.64L156.5 286.93L157.2 293.56L157.9 297.03L158.6 298.69L159.3 300.06L160.0 301.29L160.7 302.08L161.4 302.23L162.1 302.38L162.8 302.67L163.5 302.77L164.2 302.93L164.9 303.38L165.6 303.79L166.3 303.68L167.0 303.29L167.7 303.26L168.4 303.51L169.1 303.52L169.8 303.35L170.5 303.59L171.2 304.28L171.9 304.27L172.6 303.93L173.3 304.25L174.0 304.15L174.7 303.53L175.4 303.56L176.1 303.98L176.8 304.18L177.5 304.12L178.2 304.04L178.9 304.32L179.6 304.87L180.3 304.86L181.0 304.19L181.7 304.22L182.4 304.62L183.1 304.22L183.8 303.95L184.5 304.21L185.2 304.48L185.9 304.59L186.6 304.35L187.3 304.13L188.0 304.29L188.7 304.61L189.4 304.75L190.1 304.31L190.8 303.78L191.5 304.00L192.2 304.41L192.9 304.02L193.6 303.56L194.3 303.81L195.0 304.28L195.7 304.35L196.4 304.14L197.1 304.26L197.8 304.28L198.5 303.93L199.2 304.04L199.9 304.49L200.6 304.48L201.3 303.98L202.0 303.52L202.7 302.96L203.4 301.89L204.1 300.33L204.8 298.47L205.5 296.68L206.2 296.13L206.2 296.46L206.9 297.04L207.6 298.90L208.3 300.75L209.0 301.94L209.7 302.61L210.4 302.80L211.1 303.41L211.8 303.71L212.5 303.30L213.2 303.59L213.9 304.22L214.6 304.13L215.3 303.90L216.0 304.00L216.7 304.25L217.4 304.54L218.1 304.57L218.8 304.32L219.5 304.23L220.2 304.52L220.9 304.84L221.6 304.82L222.3 304.68L223.0 304.39L223.7 304.09L224.4 304.27L225.1 304.62L225.8 304.53L226.5 304.13L227.2 304.04L227.9 304.34L228.6 304.44L229.3 304.39L230.0 304.47L230.7 304.63L231.4 304.79L232.1 304.96L232.8 305.08L233.5 305.11L234.2 304.88L234.9 304.56L235.6 304.56L236.3 304.62L237.0 304.59L237.7 304.77L238.4 304.77L239.1 304.23L239.8 304.09L240.5 304.55L241.2 304.69L241.9 304.44L242.6 304.37L243.3 304.72L244.0 304.71L244.7 304.29L245.4 304.13L246.1 304.12L246.8 304.01L247.5 303.74L248.2 303.68L248.9 303.84L249.6 303.61L250.3 303.19L251.0 302.55L251.7 301.85L252.4 301.60L253.1 301.09L253.8 300.26L254.5 299.36L255.2 298.48L255.9 297.80L256.6 297.03L257.3 296.58L257.3 296.69L258.0 297.25L258.7 297.95L259.4 298.40L260.1 299.23L260.8 300.36L261.5 301.22L262.2 302.04L262.9 302.49L263.6 302.64L264.3 303.08L265.0 303.71L265.7 304.05L266.4 304.15L267.1 304.59L267.8 304.84L268.5 304.39L269.2 303.95L269.9 303.89L270.6 303.96L271.3 304.15L272.0 304.19L272.7 304.30L273.4 304.33L274.1 303.97L274.8 304.35L275.5 305.25L276.2 305.38L276.9 305.14L277.6 305.24L278.3 305.43L279.0 305.24L279.7 304.83L280.4 304.60L281.1 304.66L281.8 304.66L282.5 304.60L283.2 304.69L283.9 304.83L284.6 305.01L285.3 305.01L286.0 304.76L286.7 305.04L287.4 305.48L288.1 305.43L288.8 305.49L289.5 305.65L290.2 305.62L290.9 305.24L291.6 304.78L292.3 304.78L293.0 304.75L293.7 304.58L294.4 304.61L295.1 304.50L295.8 304.54L296.5 304.92L297.2 305.02L297.9 304.79L298.6 304.70L299.3 304.79L300.0 304.88L300.7 304.94L301.4 304.98L302.1 305.03L302.8 305.21L303.5 305.32L304.2 305.17L304.9 304.90L305.6 304.92L306.3 305.11L307.0 305.10L307.7 304.76L308.4 304.14L309.1 304.16L309.8 304.89L310.5 305.40L311.2 305.58L311.9 305.49L312.6 305.25L313.3 304.96L314.0 304.86L314.7 305.07L315.4 305.13L316.1 305.18L316.8 305.25L317.5 305.31L318.2 305.30L318.9 305.04L319.6 304.83L320.3 304.79L321.0 305.10L321.7 305.42L322.4 305.36L323.1 305.45L323.8 305.54L324.5 305.47L325.2 305.25L325.9 304.98L326.6 305.25L327.3 305.44L328.0 305.10L328.7 304.89L329.4 304.93L330.1 304.93L330.8 305.04L331.5 305.28L332.2 304.97L332.9 304.85L333.6 305.43L334.3 305.58L335.0 305.36L335.7 305.19L336.4 304.98L337.1 305.01L337.8 305.28L338.5 305.45L339.2 305.38L339.9 305.10L340.6 304.87L341.3 305.00L342.0 305.39L342.7 305.40L343.4 304.97L344.1 304.91L344.8 305.24L345.5 305.30L346.2 304.96L346.9 304.54L347.6 304.48L348.3 304.62L349.0 304.51L349.7 304.46L350.4 304.79L351.1 304.89L351.8 304.54L352.5 304.23L353.2 304.41L353.9 304.44L354.6 304.02L355.3 304.06L356.0 304.07L356.7 303.79L357.4 303.65L358.1 303.48L358.8 303.28L359.5 302.75L360.2 302.00L360.9 300.76L361.6 297.88L362.3 292.64L363.0 287.05L363.2 286.49L363.7 288.05L364.4 291.70L365.1 293.93L365.8 296.34L366.5 298.46L367.2 299.71L367.9 300.33L368.6 300.63L369.3 300.57L370.0 300.35L370.7 300.44L371.4 300.23L372.1 299.32L372.8 298.71L373.5 298.37L374.2 297.84L374.9 297.44L375.6 296.91L376.2 296.60L376.3 296.82L377.0 297.24L377.7 297.53L378.4 297.85L379.1 298.05L379.8 298.05L380.5 298.48L381.2 298.90L381.9 298.10L382.6 295.61L383.3 290.58L384.0 283.30L384.5 280.10L384.7 280.14L385.4 284.38L386.1 289.20L386.8 294.23L387.5 298.20L388.2 300.47L388.9 301.84L389.6 302.64L390.3 303.20L391.0 303.43L391.7 303.10L392.4 303.21L393.1 303.96L393.8 304.59L394.5 304.86L395.2 304.79L395.9 304.53L396.6 304.39L397.3 304.63L398.0 304.66L398.7 304.28L399.4 304.24L400.1 304.54L400.8 304.36L401.5 304.00L402.2 304.38L402.9 304.76L403.6 304.74L404.3 304.82L405.0 304.73L405.7 304.55L406.4 304.61L407.1 304.50L407.8 304.33L408.5 304.62L409.2 304.62L409.9 303.89L410.6 303.32L411.3 303.55L412.0 303.94L412.7 303.58L413.4 302.96L414.1 302.49L414.8 301.98L415.5 301.82L415.9 302.22L416.2 302.26L416.9 301.96L417.6 302.20L418.3 302.79L419.0 303.35L419.7 303.91L420.4 304.45L421.1 304.80L421.8 304.97L422.5 304.83L423.2 304.43L423.9 304.57L424.6 305.04L425.3 305.06L426.0 304.68L426.7 304.20L427.4 304.33L428.1 304.97L428.8 305.14L429.5 304.94L430.2 304.68L430.9 304.62L431.6 305.07L432.3 305.59L433.0 305.64L433.7 305.29L434.4 304.93L435.1 304.97L435.8 305.51L436.5 305.64L437.2 305.24L437.9 305.15L438.6 305.14L439.3 304.71L440.0 304.42L440.7 304.84L441.4 305.09L442.1 304.78L442.8 304.38L443.5 304.42L444.2 305.16L444.9 305.48L445.6 305.23L446.3 305.05L447.0 304.99L447.7 305.06L448.4 305.08L449.1 305.10L449.8 305.18L450.5 305.43L451.2 305.43L451.9 305.08L452.6 305.02L453.3 304.95L454.0 304.56L454.7 304.56L455.4 304.95L456.1 304.96L456.8 304.97L457.5 305.11L458.2 305.01L458.9 305.09L459.6 305.31L460.3 305.55L461.0 305.47L461.7 305.25L462.4 305.34L463.1 305.34L463.8 305.23L464.5 305.29L465.2 305.25L465.9 305.06L466.6 305.30L467.3 305.53L468.0 305.57L468.7 305.62L469.4 305.34L470.1 305.14L470.8 305.07L471.5 304.88L472.2 304.81L472.9 304.95L473.6 305.05L474.3 305.13L475.0 305.54L475.7 305.53L476.4 305.14L477.1 305.26L477.8 305.40L478.5 305.61L479.2 306.01L479.9 305.86L480.6 305.47L481.3 305.03L482.0 304.79L482.7 305.04L483.4 305.14L484.1 305.17L484.8 305.37L485.5 305.70L486.2 305.95L486.9 305.85L487.6 305.60L488.3 305.35L489.0 305.37L489.7 305.25L490.4 305.17L491.1 305.42L491.8 305.09L492.5 304.97L493.2 305.68L493.9 305.81L494.6 305.18L495.3 305.31L496.0 305.87L496.7 305.33L497.4 304.60L498.1 305.00L498.8 305.65L499.5 305.65L500.2 305.57L500.9 305.62L501.6 305.42L502.3 304.94L503.0 304.75L503.7 304.90L504.4 304.90L505.1 305.19L505.8 305.62L506.5 305.48L507.2 305.20L507.9 305.23L508.6 305.41L509.3 305.26L510.0 304.91L510.7 305.19L511.4 305.64L512.1 305.40L512.8 304.91L513.5 304.56L514.2 304.38L514.9 304.82L515.6 305.37L516.3 305.15L517.0 304.77L517.7 304.80L518.4 304.95L519.1 304.97L519.8 304.86L520.5 304.89L521.2 305.30L521.9 305.43L522.6 305.02L523.3 304.98L524.0 305.08L524.7 304.73L525.4 304.64L526.1 304.87L526.8 304.97L527.5 304.85L528.2 304.78L528.9 304.81L529.6 304.52L530.3 304.15L531.0 304.35L531.7 304.69L532.4 304.68L533.1 304.94L533.8 305.28L534.5 305.21L535.2 304.93L535.9 304.78L536.6 304.80L537.3 304.62L538.0 304.67L538.7 304.94L539.4 305.04L540.1 305.28L540.8 305.16L541.5 304.85L542.2 305.04L542.9 305.01L543.6 304.49L544.3 304.24L545.0 304.40L545.7 304.69L546.4 304.83L547.1 304.64L547.8 304.39L548.5 304.52L549.2 304.92L549.9 304.93L550.6 304.43L551.3 304.10L552.0 304.27L552.7 304.29L553.4 304.27L554.1 304.32L554.8 303.79L555.5 302.88L556.2 302.50L556.9 302.36L557.6 301.71L558.3 300.75L559.0 299.62L559.7 298.82L560.0 299.06L560.4 299.36L561.1 299.29L561.8 299.32L562.5 299.78L563.2 300.35L563.9 301.10L564.6 302.09L565.3 302.81L566.0 302.94L566.7 303.05L567.4 303.43L568.1 303.69L568.8 303.83L569.5 304.04L570.2 304.07L570.9 304.08L571.6 304.33L572.3 304.31L573.0 304.27L573.7 304.49L574.4 304.74L575.1 305.05L575.8 304.99L576.5 304.64L577.2 304.45L577.9 304.60L578.6 304.78L579.3 304.75L580.0 304.57L580.7 304.33L581.4 304.63L582.1 305.02L582.8 304.94L583.5 304.92L584.2 304.90L584.9 304.55L585.6 304.42L586.3 304.82L587.0 305.13L587.7 305.00L588.4 304.81L589.1 304.87L589.8 304.75L590.5 304.15L591.2 303.77L591.9 303.95L592.6 304.16L593.3 304.25L594.0 304.23L594.7 304.38L595.4 304.68L596.1 304.71L596.8 304.79L597.5 304.83L598.2 304.32L598.9 303.91L599.6 303.48L600.3 302.49L600.6 302.36L601.0 303.04L601.7 303.76L602.4 304.24L603.1 304.65L603.8 304.73L604.5 304.56L605.2 304.41L605.9 304.39L606.6 304.61L607.3 304.71L608.0 304.70L608.7 305.19L609.4 305.39L610.1 304.90L610.8 304.90L611.5 305.19L612.2 305.00L612.9 304.79L613.6 304.99L614.3 305.00L615.0 304.70L615.7 304.60L616.4 304.79L617.1 305.00L617.8 305.20L618.5 305.13L619.2 304.60L619.9 304.08L620.6 303.64L621.3 303.30L621.6 303.13L622.0 302.88L622.7 303.13L623.4 303.73L624.1 304.47L624.8 304.95L625.5 304.75L626.2 304.29L626.9 304.30L627.6 304.49L628.3 304.52L629.0 304.60L629.7 304.67L630.4 304.41L631.1 303.80L631.8 303.33L632.5 303.07L633.2 302.76L633.9 302.82L634.0 302.92L634.6 302.83L635.3 303.23L636.0 303.95L636.7 304.57L637.4 304.37L638.1 304.00L638.8 304.35L639.5 304.59L640.2 304.44L640.9 304.46L641.6 304.70L642.3 304.81L643.0 304.59L643.7 304.30L644.4 304.15L645.1 303.92L645.8 303.89L646.5 304.07L647.2 304.14L647.9 304.60L648.6 305.15L649.3 304.84L650.0 304.09L650.7 303.76L651.4 303.85L652.1 303.77L652.8 303.87L653.5 304.35L654.2 304.52L654.9 304.93L655.6 305.35L656.3 304.96L657.0 304.59L657.7 304.55L658.4 304.35L659.1 304.21L659.8 304.46L660.5 304.70L661.2 304.38L661.9 303.94L662.6 303.86L663.3 304.05L664.0 304.40L664.7 304.64L665.4 304.79L666.1 304.79L666.8 304.66L667.5 304.68L668.2 304.73L668.9 304.44L669.6 304.24L670.3 304.35L671.0 304.08L671.7 304.08L672.4 304.46L673.1 304.67L673.8 304.86L674.5 304.58L675.2 304.23L675.9 304.30L676.6 304.55L677.3 304.97L678.0 305.11L678.7 304.75L679.4 304.41L680.1 304.50L680.8 304.55L681.5 304.20L682.2 304.16L682.9 304.54L683.6 304.57L684.3 304.28L685.0 303.90L685.7 303.81L686.4 304.15L687.1 303.95L687.8 303.32L688.5 302.96L689.2 302.86L689.9 302.57L690.6 301.23L691.3 300.01L691.6 300.36L692.0 300.55L692.7 300.75L693.4 301.62L694.1 302.92L694.8 303.51L695.5 303.65L696.2 303.99L696.9 304.51L697.6 304.76L698.3 304.55L699.0 304.30L699.7 304.35L700.4 304.23L701.1 304.09L701.8 304.33L702.5 304.37L703.2 304.31L703.9 304.44L704.6 304.64L705.3 304.91L706.0 304.88L706.7 304.31L707.4 303.96L708.1 304.03L708.8 304.13L709.5 304.16L710.2 304.00L710.9 304.06L711.6 304.28L712.3 304.12L713.0 303.76L713.7 303.40L714.4 302.27L715.1 300.62L715.8 299.87L716.0 299.97L716.5 300.11L717.2 301.14L717.9 302.37L718.6 303.25L719.3 303.84L720.0 304.29L720.7 304.28L721.4 303.90L722.1 303.92L722.8 304.14L723.5 304.10L724.2 304.18L724.9 304.45L725.6 304.58L726.3 304.64L727.0 304.58L727.7 304.36L728.4 304.24L729.1 304.16L729.8 304.20L730.5 304.16L731.2 303.67L731.9 303.56L732.6 304.17L733.3 304.44L734.0 304.20L734.7 304.00L735.4 304.08L736.1 304.26L736.8 304.39L737.5 304.48L738.2 304.23L738.9 304.03L739.6 304.09L740.3 304.04L741.0 303.81L741.7 303.55L742.4 303.72L743.1 303.91L743.8 303.70L744.5 303.66L745.2 303.67L745.9 303.63L746.6 303.50L747.3 302.95L748.0 302.46L748.7 302.02L749.4 301.70" stroke="#ff4040" stroke-width="1.15" fill="none" stroke-linejoin="round"/>
<path d="M55.0 359.43L55.7 359.20L56.4 358.51L57.1 358.72L57.8 359.35L58.5 359.49L59.2 359.46L59.9 359.43L60.6 359.27L61.3 359.14L62.0 358.92L62.7 358.59L63.4 358.64L64.1 358.85L64.8 359.00L65.5 359.34L66.2 359.64L66.9 359.54L67.6 359.32L68.3 359.16L69.0 358.77L69.7 358.62L70.4 358.88L71.1 358.80L71.8 358.34L72.5 358.33L73.2 358.68L73.9 358.89L74.6 359.16L75.3 359.20L76.0 359.06L76.7 359.11L77.4 359.14L78.1 359.11L78.8 359.09L79.5 358.87L80.2 358.69L80.9 358.77L81.6 358.96L82.3 358.86L83.0 358.92L83.7 359.23L84.4 359.02L85.1 358.85L85.8 359.17L86.5 359.33L87.2 359.13L87.9 359.03L88.6 358.78L89.3 358.59L90.0 358.99L90.7 359.17L91.4 358.90L92.1 358.61L92.8 358.27L93.5 358.21L94.2 358.61L94.9 358.87L95.6 358.81L96.3 358.95L97.0 359.09L97.7 359.01L98.4 359.13L99.1 359.06L99.8 358.74L100.5 358.56L101.2 358.43L101.9 358.64L102.6 358.76L103.3 358.47L104.0 358.35L104.7 358.48L105.4 358.56L106.1 358.50L106.8 358.47L107.5 358.48L108.2 358.32L108.9 358.26L109.6 358.50L110.3 358.51L111.0 358.11L111.7 358.17L112.4 358.40L113.1 357.98L113.8 357.69L114.5 357.81L115.2 357.84L115.9 357.65L116.6 357.25L117.3 357.07L118.0 356.98L118.7 356.33L119.4 355.40L120.1 354.33L120.8 352.11L121.5 348.40L122.2 342.68L122.9 333.50L123.6 322.19L124.1 317.53L124.3 317.38L125.0 322.29L125.7 330.33L126.4 338.65L127.1 344.77L127.8 348.80L128.5 351.43L129.2 352.41L129.9 352.69L130.6 352.96L131.3 352.47L132.0 351.30L132.7 349.61L133.4 345.65L134.1 337.62L134.8 325.81L135.5 315.70L135.7 314.76L136.2 316.49L136.9 324.29L137.6 333.27L138.3 341.87L139.0 348.10L139.7 351.89L140.4 353.69L141.1 354.23L141.8 354.86L142.5 355.76L143.2 356.24L143.9 356.55L144.6 356.73L145.3 356.80L146.0 356.85L146.7 356.67L147.4 356.15L148.1 355.69L148.8 355.30L149.5 354.30L150.2 352.50L150.9 349.40L151.6 343.71L152.3 334.01L153.0 320.92L153.7 311.87L153.7 311.67L154.4 314.95L155.1 323.94L155.8 333.67L156.5 342.64L157.2 348.87L157.9 352.06L158.6 354.21L159.3 355.84L160.0 356.41L160.7 356.94L161.4 357.40L162.1 357.34L162.8 357.16L163.5 357.37L164.2 357.95L164.9 358.06L165.6 357.87L166.3 358.12L167.0 358.48L167.7 358.74L168.4 358.69L169.1 358.46L169.8 358.54L170.5 358.90L171.2 359.54L171.9 359.82L172.6 359.36L173.3 359.07L174.0 359.12L174.7 359.14L175.4 359.21L176.1 359.20L176.8 358.99L177.5 358.88L178.2 359.13L178.9 359.34L179.6 359.42L180.3 359.62L181.0 359.53L181.7 359.43L182.4 359.42L183.1 359.23L183.8 359.54L184.5 359.74L185.2 359.32L185.9 359.23L186.6 359.58L187.3 359.71L188.0 359.50L188.7 359.42L189.4 359.48L190.1 359.22L190.8 358.89L191.5 358.98L192.2 358.96L192.9 358.84L193.6 358.97L194.3 359.10L195.0 359.03L195.7 358.70L196.4 358.47L197.1 358.71L197.8 359.28L198.5 359.59L199.2 359.56L199.9 359.41L200.6 359.12L201.3 358.50L202.0 357.76L202.7 357.28L203.4 356.44L204.1 354.88L204.8 353.13L205.5 351.51L206.2 350.28L206.2 349.97L206.9 351.01L207.6 352.94L208.3 354.64L209.0 356.10L209.7 356.86L210.4 357.12L211.1 357.74L211.8 358.56L212.5 358.92L213.2 358.81L213.9 358.60L214.6 358.71L215.3 359.08L216.0 359.17L216.7 358.87L217.4 358.93L218.1 359.34L218.8 359.31L219.5 359.04L220.2 358.92L220.9 359.19L221.6 359.69L222.3 359.66L223.0 359.14L223.7 359.13L224.4 359.75L225.1 360.05L225.8 359.90L226.5 359.43L227.2 358.77L227.9 358.81L228.6 359.25L229.3 359.33L230.0 359.26L230.7 359.12L231.4 359.13L232.1 359.30L232.8 359.25L233.5 359.26L234.2 359.36L234.9 359.50L235.6 359.74L236.3 359.56L237.0 359.02L237.7 358.89L238.4 359.09L239.1 359.15L239.8 359.07L240.5 359.27L241.2 359.43L241.9 359.16L242.6 358.81L243.3 358.65L244.0 358.66L244.7 358.92L245.4 358.86L246.1 358.29L246.8 358.12L247.5 358.17L248.2 358.22L248.9 358.22L249.6 357.79L250.3 357.10L251.0 356.62L251.7 356.30L252.4 355.59L253.1 354.58L253.8 353.19L254.5 351.55L255.2 350.45L255.9 350.07L256.6 350.10L256.7 350.18L257.3 350.47L258.0 351.20L258.7 352.21L259.4 353.34L260.1 354.05L260.8 354.57L261.5 355.70L262.2 356.75L262.9 357.22L263.6 357.97L264.3 358.42L265.0 358.29L265.7 358.25L266.4 358.37L267.1 358.64L267.8 358.57L268.5 358.45L269.2 358.68L269.9 358.83L270.6 358.94L271.3 359.13L272.0 359.12L272.7 359.19L273.4 359.75L274.1 360.05L274.8 359.58L275.5 359.08L276.2 359.14L276.9 359.41L277.6 359.45L278.3 359.18L279.0 358.84L279.7 358.81L280.4 359.19L281.1 359.57L281.8 359.27L282.5 358.94L283.2 359.50L283.9 360.07L284.6 359.69L285.3 359.06L286.0 359.38L286.7 359.89L287.4 359.83L288.1 359.40L288.8 359.08L289.5 359.25L290.2 359.57L290.9 359.82L291.6 359.84L292.3 359.76L293.0 359.69L293.7 359.40L294.4 359.34L295.1 359.63L295.8 359.75L296.5 359.80L297.2 359.97L297.9 359.79L298.6 359.48L299.3 359.45L300.0 359.33L300.7 359.13L301.4 359.36L302.1 359.94L302.8 359.86L303.5 359.51L304.2 359.86L304.9 359.99L305.6 359.75L306.3 360.02L307.0 360.32L307.7 360.06L308.4 359.94L309.1 359.86L309.8 359.38L310.5 359.04L311.2 359.14L311.9 359.57L312.6 359.76L313.3 359.38L314.0 359.23L314.7 359.49L315.4 359.67L316.1 359.75L316.8 359.68L317.5 359.59L318.2 359.62L318.9 359.54L319.6 359.28L320.3 359.45L321.0 360.30L321.7 360.76L322.4 360.11L323.1 359.38L323.8 359.60L324.5 359.74L325.2 359.32L325.9 359.26L326.6 359.35L327.3 359.24L328.0 359.43L328.7 359.71L329.4 359.60L330.1 359.71L330.8 359.90L331.5 359.36L332.2 359.09L332.9 359.76L333.6 360.19L334.3 359.92L335.0 359.51L335.7 359.15L336.4 359.33L337.1 359.94L337.8 360.10L338.5 359.74L339.2 359.26L339.9 358.98L340.6 358.91L341.3 359.10L342.0 359.34L342.7 359.23L343.4 359.25L344.1 359.55L344.8 359.59L345.5 359.45L346.2 359.38L346.9 359.04L347.6 358.68L348.3 358.81L349.0 358.90L349.7 358.89L350.4 358.87L351.1 358.89L351.8 358.97L352.5 358.79L353.2 358.60L353.9 358.49L354.6 358.33L355.3 358.31L356.0 358.21L356.7 357.77L357.4 357.08L358.1 356.50L358.8 356.10L359.5 355.30L360.2 353.82L360.9 351.64L361.6 347.84L362.3 341.69L363.0 335.87L363.2 335.53L363.7 336.80L364.4 340.77L365.1 343.58L365.8 346.79L366.5 350.19L367.2 352.56L367.9 353.42L368.6 353.35L369.3 353.60L370.0 353.57L370.7 352.77L371.4 352.32L372.1 352.17L372.8 351.31L373.5 350.34L374.2 349.84L374.9 349.15L375.6 348.06L376.3 347.24L376.7 347.37L377.0 347.79L377.7 348.13L378.4 348.54L379.1 349.18L379.8 349.82L380.5 350.03L381.2 349.78L381.9 348.35L382.6 345.03L383.3 338.89L384.0 330.06L384.5 326.37L384.7 326.50L385.4 331.00L386.1 337.22L386.8 344.01L387.5 349.29L388.2 352.53L388.9 354.79L389.6 356.09L390.3 356.72L391.0 357.35L391.7 357.51L392.4 357.14L393.1 356.85L393.8 357.26L394.5 358.07L395.2 358.34L395.9 358.31L396.6 358.60L397.3 358.80L398.0 358.46L398.7 358.16L399.4 358.34L400.1 358.71L400.8 359.05L401.5 359.06L402.2 358.84L402.9 358.85L403.6 358.95L404.3 359.12L405.0 359.45L405.7 359.40L406.4 358.94L407.1 358.63L407.8 358.56L408.5 358.53L409.2 358.50L409.9 358.40L410.6 358.09L411.3 357.66L412.0 357.44L412.7 357.69L413.4 357.81L414.1 357.23L414.8 356.55L415.5 356.07L416.2 355.97L416.6 356.12L416.9 355.76L417.6 355.47L418.3 355.85L419.0 356.46L419.7 356.80L420.4 357.10L421.1 357.42L421.8 357.81L422.5 358.15L423.2 358.57L423.9 358.87L424.6 358.40L425.3 358.40L426.0 359.06L426.7 359.30L427.4 359.29L428.1 359.38L428.8 359.46L429.5 359.53L430.2 359.62L430.9 359.58L431.6 359.46L432.3 359.56L433.0 359.69L433.7 359.66L434.4 359.86L435.1 360.07L435.8 360.01L436.5 359.88L437.2 359.67L437.9 359.68L438.6 359.80L439.3 359.80L440.0 359.95L440.7 360.00L441.4 359.65L442.1 359.47L442.8 359.46L443.5 359.32L444.2 359.62L444.9 359.95L445.6 359.87L446.3 359.85L447.0 359.98L447.7 360.08L448.4 359.98L449.1 359.37L449.8 358.81L450.5 359.22L451.2 359.78L451.9 359.64L452.6 359.59L453.3 359.71L454.0 359.54L454.7 359.58L455.4 359.75L456.1 359.66L456.8 359.66L457.5 359.55L458.2 359.32L458.9 359.36L459.6 359.45L460.3 359.62L461.0 359.88L461.7 359.74L462.4 359.35L463.1 359.22L463.8 359.60L464.5 359.94L465.2 359.87L465.9 359.89L466.6 359.83L467.3 359.50L468.0 359.45L468.7 359.50L469.4 359.41L470.1 359.48L470.8 359.57L471.5 359.71L472.2 359.69L472.9 359.75L473.6 359.81L474.3 359.57L475.0 359.53L475.7 359.67L476.4 359.86L477.1 359.96L477.8 359.87L478.5 359.72L479.2 359.68L479.9 359.75L480.6 359.71L481.3 359.70L482.0 359.56L482.7 359.21L483.4 359.24L484.1 359.58L484.8 359.84L485.5 359.67L486.2 359.24L486.9 359.54L487.6 359.97L488.3 359.91L489.0 359.86L489.7 359.75L490.4 359.75L491.1 359.70L491.8 359.16L492.5 358.98L493.2 359.50L493.9 359.74L494.6 359.72L495.3 359.80L496.0 359.77L496.7 359.65L497.4 359.73L498.1 359.62L498.8 359.36L499.5 359.47L500.2 359.57L500.9 359.58L501.6 359.74L502.3 359.76L503.0 359.95L503.7 359.88L504.4 359.25L505.1 359.16L505.8 359.56L506.5 359.69L507.2 359.91L507.9 360.02L508.6 359.79L509.3 359.71L510.0 359.55L510.7 359.45L511.4 359.65L512.1 359.83L512.8 359.91L513.5 359.89L514.2 359.89L514.9 359.59L515.6 359.16L516.3 359.21L517.0 359.54L517.7 359.60L518.4 359.42L519.1 359.41L519.8 359.23L520.5 359.01L521.2 359.35L521.9 359.62L522.6 359.63L523.3 359.75L524.0 359.77L524.7 359.57L525.4 359.40L526.1 359.45L526.8 359.59L527.5 359.40L528.2 359.16L528.9 359.33L529.6 359.69L530.3 359.90L531.0 359.69L531.7 359.40L532.4 359.30L533.1 359.04L533.8 358.97L534.5 359.33L535.2 359.78L535.9 359.80L536.6 359.48L537.3 359.42L538.0 359.57L538.7 359.51L539.4 359.57L540.1 359.63L540.8 359.45L541.5 359.15L542.2 358.93L542.9 358.95L543.6 358.94L544.3 359.15L545.0 359.38L545.7 359.61L546.4 359.45L547.1 358.81L547.8 358.80L548.5 359.05L549.2 359.11L549.9 359.05L550.6 358.79L551.3 358.49L552.0 358.37L552.7 358.23L553.4 358.04L554.1 358.02L554.8 357.77L555.5 357.23L556.2 356.65L556.9 356.11L557.6 355.41L558.3 354.56L559.0 353.35L559.7 351.85L560.4 351.01L560.6 351.17L561.1 351.12L561.8 351.24L562.5 351.95L563.2 352.52L563.9 352.88L564.6 353.62L565.3 354.69L566.0 355.66L566.7 356.35L567.4 356.99L568.1 357.48L568.8 357.64L569.5 357.58L570.2 357.85L570.9 358.23L571.6 358.13L572.3 358.15L573.0 358.64L573.7 359.01L574.4 358.94L575.1 358.92L575.8 358.98L576.5 359.06L577.2 359.34L577.9 359.29L578.6 359.03L579.3 359.29L580.0 359.45L580.7 359.37L581.4 359.53L582.1 359.84L582.8 360.02L583.5 359.79L584.2 359.49L584.9 359.28L585.6 359.05L586.3 359.29L587.0 359.60L587.7 359.41L588.4 359.26L589.1 359.59L589.8 359.70L590.5 359.20L591.2 358.86L591.9 358.93L592.6 358.74L593.3 358.48L594.0 358.94L594.7 359.27L595.4 358.75L596.1 358.47L596.8 358.57L597.5 358.12L598.2 356.97L598.9 355.89L599.6 355.26L600.0 355.24L600.3 355.22L601.0 355.82L601.7 357.01L602.4 358.11L603.1 358.37L603.8 358.40L604.5 358.46L605.2 358.35L605.9 358.63L606.6 359.22L607.3 359.41L608.0 359.36L608.7 359.11L609.4 358.72L610.1 358.87L610.8 359.56L611.5 359.86L612.2 359.38L612.9 358.80L613.6 358.88L614.3 359.39L615.0 359.34L615.7 358.90L616.4 359.08L617.1 359.53L617.8 359.39L618.5 358.88L619.2 358.66L619.9 358.43L620.6 357.66L621.3 356.90L622.0 356.74L622.5 357.15L622.7 357.30L623.4 357.35L624.1 357.34L624.8 357.50L625.5 358.05L626.2 358.71L626.9 358.93L627.6 358.72L628.3 358.49L629.0 358.08L629.7 357.98L630.4 358.22L631.1 358.04L631.8 357.50L632.5 357.16L633.2 356.87L633.9 356.18L634.6 355.75L634.7 355.72L635.3 356.25L636.0 357.29L636.7 357.84L637.4 358.24L638.1 358.69L638.8 359.00L639.5 358.94L640.2 358.76L640.9 359.00L641.6 358.92L642.3 358.72L643.0 359.00L643.7 359.13L644.4 359.10L645.1 358.99L645.8 358.51L646.5 358.28L647.2 358.71L647.9 359.18L648.6 359.17L649.3 358.87L650.0 358.69L650.7 358.85L651.4 358.91L652.1 358.46L652.8 358.12L653.5 358.06L654.2 357.82L654.9 357.67L655.0 357.77L655.6 357.61L656.3 357.36L657.0 357.68L657.7 358.48L658.4 358.81L659.1 358.89L659.8 359.17L660.5 359.42L661.2 359.48L661.9 359.36L662.6 359.13L663.3 358.99L664.0 358.92L664.7 358.87L665.4 359.12L666.1 359.40L666.8 359.33L667.5 359.02L668.2 358.69L668.9 358.58L669.6 358.66L670.3 358.86L671.0 359.12L671.7 359.24L672.4 359.32L673.1 359.19L673.8 358.84L674.5 358.87L675.2 359.17L675.9 359.14L676.6 358.80L677.3 358.83L678.0 359.22L678.7 359.30L679.4 359.08L680.1 358.77L680.8 358.61L681.5 358.78L682.2 358.98L682.9 359.09L683.6 359.08L684.3 359.04L685.0 358.98L685.7 358.74L686.4 358.58L687.1 358.22L687.8 357.54L688.5 357.12L689.2 356.73L689.9 355.85L690.6 354.51L691.3 353.24L691.6 352.82L692.0 352.96L692.7 354.36L693.4 355.73L694.1 356.78L694.8 357.50L695.5 357.94L696.2 358.12L696.9 358.52L697.6 359.11L698.3 359.44L699.0 359.44L699.7 359.02L700.4 358.59L701.1 358.50L701.8 358.41L702.5 358.31L703.2 358.47L703.9 358.44L704.6 358.10L705.3 357.99L706.0 358.20L706.7 358.47L707.4 358.40L708.1 358.21L708.8 358.41L709.5 358.87L710.2 359.09L710.9 358.82L711.6 358.36L712.3 357.84L713.0 357.25L713.7 356.30L714.4 355.01L715.1 353.49L715.8 352.36L716.0 352.42L716.5 352.82L717.2 354.22L717.9 355.51L718.6 356.67L719.3 357.61L720.0 358.10L720.7 358.37L721.4 358.22L722.1 358.38L722.8 358.69L723.5 358.33L724.2 358.34L724.9 358.78L725.6 358.73L726.3 358.74L727.0 359.03L727.7 358.61L728.4 358.29L729.1 358.64L729.8 358.72L730.5 358.77L731.2 358.80L731.9 358.50L732.6 358.41L733.3 358.70L734.0 358.75L734.7 358.67L735.4 358.95L736.1 358.83L736.8 358.46L737.5 358.62L738.2 358.97L738.9 359.14L739.6 359.15L740.3 358.99L741.0 358.78L741.7 358.38L742.4 358.05L743.1 358.34L743.8 358.65L744.5 358.53L745.2 358.05L745.9 357.68L746.6 357.70L747.3 357.64L748.0 357.44L748.7 357.22L749.4 356.95" stroke="#333333" stroke-width="1.15" fill="none" stroke-linejoin="round"/>
<text x="364.7" y="429.3" font-family="\"Liberation Serif\", serif" font-size="17.2" fill="#111">(<tspan font-weight="bold" font-size="15.4">a</tspan>)</text>
<text x="364.0" y="810.0" font-family="\"Liberation Serif\", serif" font-size="17.2" fill="#111">(<tspan font-weight="bold" font-size="15.4">b</tspan>)</text>
<line x1="202.3" y1="749.6" x2="578" y2="749.6" stroke="#c4c4c4" stroke-width="1.4"/>
<line x1="207.6" y1="468.1" x2="207.6" y2="749.8" stroke="#6e6e6e" stroke-width="1"/>
<path d="M205.0 746.48H207.4M205.0 743.27H207.4M205.0 740.05H207.4M205.0 736.84H207.4M203.4 733.62H207.4M205.0 730.40H207.4M205.0 727.19H207.4M205.0 723.97H207.4M205.0 720.76H207.4M202.4 717.54H207.4M205.0 714.32H207.4M205.0 711.11H207.4M205.0 707.89H207.4M205.0 704.68H207.4M203.4 701.46H207.4M205.0 698.24H207.4M205.0 695.03H207.4M205.0 691.81H207.4M205.0 688.60H207.4M202.4 685.38H207.4M205.0 682.16H207.4M205.0 678.95H207.4M205.0 675.73H207.4M205.0 672.52H207.4M203.4 669.30H207.4M205.0 666.08H207.4M205.0 662.87H207.4M205.0 659.65H207.4M205.0 656.44H207.4M202.4 653.22H207.4M205.0 650.00H207.4M205.0 646.79H207.4M205.0 643.57H207.4M205.0 640.36H207.4M203.4 637.14H207.4M205.0 633.92H207.4M205.0 630.71H207.4M205.0 627.49H207.4M205.0 624.28H207.4M202.4 621.06H207.4M205.0 617.84H207.4M205.0 614.63H207.4M205.0 611.41H207.4M205.0 608.20H207.4M203.4 604.98H207.4M205.0 601.76H207.4M205.0 598.55H207.4M205.0 595.33H207.4M205.0 592.12H207.4M202.4 588.90H207.4M205.0 585.68H207.4M205.0 582.47H207.4M205.0 579.25H207.4M205.0 576.04H207.4M203.4 572.82H207.4M205.0 569.60H207.4M205.0 566.39H207.4M205.0 563.17H207.4M205.0 559.96H207.4M202.4 556.74H207.4M205.0 553.52H207.4M205.0 550.31H207.4M205.0 547.09H207.4M205.0 543.88H207.4M203.4 540.66H207.4M205.0 537.44H207.4M205.0 534.23H207.4M205.0 531.01H207.4M205.0 527.80H207.4M202.4 524.58H207.4M205.0 521.36H207.4M205.0 518.15H207.4M205.0 514.93H207.4M205.0 511.72H207.4M203.4 508.50H207.4M205.0 505.28H207.4M205.0 502.07H207.4M205.0 498.85H207.4M205.0 495.64H207.4M202.4 492.42H207.4M205.0 489.20H207.4M205.0 485.99H207.4M205.0 482.77H207.4M205.0 479.56H207.4M203.4 476.34H207.4M205.0 473.12H207.4M205.0 469.91H207.4" stroke="#6e6e6e" stroke-width="0.8" fill="none"/>
<path d="M208.50 750.2v3.6M223.22 750.2v2.2M237.94 750.2v2.2M252.66 750.2v2.2M267.38 750.2v2.2M282.10 750.2v3.6M296.82 750.2v2.2M311.54 750.2v2.2M326.26 750.2v2.2M340.98 750.2v2.2M355.70 750.2v3.6M370.42 750.2v2.2M385.14 750.2v2.2M399.86 750.2v2.2M414.58 750.2v2.2M429.30 750.2v3.6M444.02 750.2v2.2M458.74 750.2v2.2M473.46 750.2v2.2M488.18 750.2v2.2M502.90 750.2v3.6M517.62 750.2v2.2M532.34 750.2v2.2M547.06 750.2v2.2M561.78 750.2v2.2M576.50 750.2v3.6" stroke="#555" stroke-width="0.9" fill="none"/>
<text x="207.4" y="762.1" font-size="7.8" font-weight="bold" text-anchor="middle" fill="#2a2a2a">22.5</text>
<text x="282.0" y="762.1" font-size="7.8" font-weight="bold" text-anchor="middle" fill="#2a2a2a">23.0</text>
<text x="358.4" y="762.1" font-size="7.8" font-weight="bold" text-anchor="middle" fill="#2a2a2a">23.5</text>
<text x="428.3" y="762.1" font-size="7.8" font-weight="bold" text-anchor="middle" fill="#2a2a2a">24.0</text>
<text x="502.9" y="762.1" font-size="7.8" font-weight="bold" text-anchor="middle" fill="#2a2a2a">24.5</text>
<text x="577.0" y="762.1" font-size="7.8" font-weight="bold" text-anchor="middle" fill="#2a2a2a">25.0</text>
<text transform="translate(199.2,750.3) rotate(-90)" font-size="7.9" text-anchor="middle" fill="#222" stroke="#222" stroke-width="0.15">0</text>
<text transform="translate(199.2,687.8) rotate(-90)" font-size="7.9" text-anchor="middle" fill="#222" stroke="#222" stroke-width="0.15">2000</text>
<text transform="translate(199.2,623.0) rotate(-90)" font-size="7.9" text-anchor="middle" fill="#222" stroke="#222" stroke-width="0.15">4000</text>
<text transform="translate(199.2,559.9) rotate(-90)" font-size="7.9" text-anchor="middle" fill="#222" stroke="#222" stroke-width="0.15">6000</text>
<text transform="translate(199.2,493.0) rotate(-90)" font-size="7.9" text-anchor="middle" fill="#222" stroke="#222" stroke-width="0.15">8000</text>
<text transform="translate(180.9,604.5) rotate(-90)" font-size="7.9" text-anchor="middle" fill="#1a1a1a" stroke="#1a1a1a" stroke-width="0.2">Intensity, cps</text>
<text x="371.6" y="774.8" font-size="7.9" fill="#1a1a1a" stroke="#1a1a1a" stroke-width="0.2">2 Theta, degree</text>
<text transform="translate(298.7,531.6) rotate(-90)" font-size="8.5" text-anchor="middle" fill="#222" stroke="#222" stroke-width="0.15">(202)</text>
<text transform="translate(369.1,537.3) rotate(-90)" font-size="8.5" text-anchor="middle" fill="#222" stroke="#222" stroke-width="0.15">(020)</text>
<text transform="translate(486.3,531.0) rotate(-90)" font-size="8.5" text-anchor="middle" fill="#222" stroke="#222" stroke-width="0.15">(002)</text>
<path d="M207.6 748.9 L217.5 744.7 L225.8 745.7 L232.1 742.6 L235.2 741.0 L240.4 735.8 L244.1 733.8 L247.7 726.5 L250.8 718.1 L254.0 705.6 L257.1 693.1 L259.5 684.0 L262.4 658.4 L266.3 641.8 L267.5 639.9 L271.1 639.9 L273.4 643.5 L277.0 658.4 L280.5 670.0 L283.6 679.3 L290.6 695.3 L298.4 709.6 L306.4 725.0 L313.8 727.6 L319.8 720.3 L327.8 693.5 L331.8 666.8 L335.0 645.0 L337.0 637.5 L339.6 630.2 L341.1 630.2 L343.8 641.7 L349.0 660.0 L355.1 680.4 L361.0 695.0 L367.8 708.7 L371.6 712.6 L376.7 726.6 L384.4 734.3 L393.3 740.7 L402.3 736.8 L408.6 742.0 L418.9 736.8 L423.9 734.2 L429.1 730.5 L431.7 724.5 L436.7 713.9 L439.5 697.3 L442.5 672.0 L445.3 648.6 L448.0 634.0 L450.2 627.2 L455.0 627.2 L458.0 640.0 L460.9 658.4 L464.7 672.0 L470.6 685.6 L478.4 709.0 L484.2 720.6 L490.0 730.5 L495.9 740.0 L503.7 745.0 L514.8 747.9 L517.2 748.2 L519.7 749.2 L522.2 749.4 L524.6 748.6 L527.1 749.1 L529.7 748.8 L532.2 748.6 L534.8 749.2 L537.3 748.8 L539.9 749.2 L542.4 747.6 L545.0 748.6 L547.5 749.5 L550.0 748.4 L552.5 748.8 L555.0 748.3 L557.5 748.0 L560.0 748.2 L562.7 748.6 L565.4 748.8 L568.1 748.3 L570.8 748.4 L573.5 749.0 L576.2 748.1 L578.9 747.8 L581.6 748.8" stroke="#b05858" stroke-width="0.9" fill="none" stroke-linejoin="round"/>
<path d="M207.6 748.5 L216.5 746.2 L222.7 748.9 L231.0 746.2 L239.4 744.7 L244.6 744.2 L248.8 736.9 L252.9 733.8 L257.1 728.5 L260.2 721.2 L262.8 705.6 L265.4 690.0 L267.3 668.0 L270.2 654.0 L273.1 638.9 L276.0 626.0 L278.0 618.5 L279.9 615.6 L282.8 623.3 L285.6 636.0 L288.7 653.7 L291.5 668.0 L295.6 688.0 L300.0 705.0 L305.0 720.6 L311.8 735.7 L317.1 736.0 L321.1 733.6 L325.0 727.0 L329.1 717.6 L332.5 700.0 L335.8 680.1 L339.0 660.0 L342.5 640.0 L345.8 621.9 L349.8 615.6 L353.1 629.2 L358.8 662.8 L365.2 681.9 L371.6 711.3 L379.3 731.7 L389.5 740.7 L403.5 743.2 L416.3 742.0 L431.6 736.8 L436.0 734.0 L441.4 724.5 L445.0 715.1 L449.2 697.3 L452.0 675.0 L455.0 648.6 L457.5 625.0 L459.9 609.7 L463.9 603.9 L466.7 619.5 L469.5 638.0 L472.5 658.4 L478.4 691.4 L484.2 718.7 L490.0 731.8 L497.8 744.0 L514.8 748.5 L517.6 748.5 L520.4 749.1 L523.2 748.9 L526.0 748.9 L528.8 749.5 L531.6 747.8 L534.4 748.1 L537.2 747.7 L540.0 748.5 L542.9 748.4 L545.7 749.0 L548.6 748.4 L551.4 748.6 L554.3 747.1 L557.1 748.3 L560.0 748.2 L562.7 747.7 L565.4 749.4 L568.1 748.9 L570.8 749.0 L573.5 748.4 L576.2 748.9 L578.9 748.9 L581.6 748.6" stroke="#ff4cff" stroke-width="0.9" fill="none" stroke-linejoin="round"/>
<path d="M207.6 748.0 L214.4 745.2 L218.5 744.7 L225.8 748.9 L237.3 743.6 L245.6 744.7 L250.8 741.0 L256.0 736.9 L262.3 730.6 L267.5 716.0 L271.7 700.4 L274.3 690.0 L277.0 680.0 L279.9 660.0 L281.5 648.6 L283.8 623.3 L285.3 616.2 L288.5 616.2 L292.5 629.2 L297.3 648.6 L302.4 665.6 L309.2 682.7 L316.0 700.0 L319.8 706.9 L325.1 720.3 L331.8 722.9 L337.2 718.9 L342.5 700.2 L347.9 673.4 L351.9 640.0 L354.7 612.5 L359.5 604.7 L362.5 617.7 L367.7 646.9 L372.0 660.0 L376.7 673.0 L383.1 694.7 L389.5 704.9 L394.6 722.8 L402.3 733.0 L411.2 738.1 L420.1 733.7 L426.5 739.4 L436.7 731.7 L445.3 728.4 L451.0 720.0 L455.0 712.8 L458.0 700.0 L460.9 677.8 L463.5 645.0 L466.7 613.6 L469.6 600.0 L473.3 601.0 L476.4 638.9 L482.3 656.4 L490.0 673.9 L495.0 690.0 L497.8 703.1 L502.4 715.7 L505.6 724.5 L508.6 729.3 L513.4 740.0 L516.0 741.7 L518.9 744.0 L521.8 742.3 L524.7 745.4 L527.6 746.1 L530.5 745.8 L533.4 746.7 L536.2 746.3 L539.1 747.3 L542.0 746.4 L544.5 746.8 L547.0 746.8 L549.4 747.9 L551.9 747.9 L554.3 747.7 L556.8 746.9 L559.5 747.1 L562.3 747.6 L565.0 748.2 L567.3 748.4 L569.7 748.2 L572.0 747.5 L574.4 747.4 L576.8 747.7 L579.2 747.0 L581.6 748.3" stroke="#ff8030" stroke-width="0.9" fill="none" stroke-linejoin="round"/>
<path d="M207.6 748.5 L215.4 748.3 L225.8 748.9 L239.4 745.2 L247.7 746.8 L254.0 743.1 L260.2 739.0 L267.5 729.6 L271.1 728.4 L273.8 717.1 L277.0 709.0 L280.0 690.0 L282.8 681.7 L285.2 665.0 L287.7 648.6 L290.5 615.0 L292.5 592.0 L294.4 580.5 L298.1 587.3 L301.0 605.0 L304.1 628.1 L306.5 650.0 L309.2 670.7 L312.0 690.0 L315.8 717.6 L321.1 727.6 L327.0 732.0 L333.2 735.0 L338.0 730.0 L342.5 724.3 L346.5 712.0 L350.6 700.2 L354.0 675.0 L357.2 640.0 L360.5 605.0 L364.7 569.4 L368.5 580.0 L372.5 615.0 L376.7 650.0 L380.0 676.0 L383.1 698.5 L388.2 716.4 L392.0 724.0 L397.1 729.2 L406.1 733.0 L415.0 735.6 L426.5 735.6 L436.7 734.3 L439.5 736.2 L445.0 733.0 L451.1 730.4 L455.0 724.0 L458.9 714.8 L462.5 700.0 L466.7 677.8 L470.0 648.0 L473.5 610.0 L478.3 565.9 L481.0 590.0 L484.2 638.9 L488.0 665.0 L492.0 691.4 L495.0 707.0 L499.8 726.8 L502.0 730.0 L506.1 736.7 L514.8 744.2 L517.2 744.8 L519.7 744.0 L522.2 743.9 L524.6 743.2 L527.1 745.0 L529.6 745.4 L532.2 746.5 L534.7 746.1 L537.3 746.8 L539.9 747.4 L542.4 746.6 L545.0 747.5 L547.5 749.1 L550.0 747.1 L552.5 747.9 L555.0 749.3 L557.5 747.7 L560.0 747.8 L562.7 747.9 L565.4 747.6 L568.1 748.2 L570.8 746.8 L573.5 747.8 L576.2 749.3 L578.9 748.5 L581.6 748.4" stroke="#4040ff" stroke-width="0.9" fill="none" stroke-linejoin="round"/>
<path d="M207.6 748.5 L215.4 747.8 L223.8 749.9 L239.4 745.2 L249.8 747.8 L257.1 739.5 L262.3 740.5 L266.5 740.0 L269.6 729.0 L273.8 726.5 L277.9 719.2 L280.5 705.6 L282.6 690.0 L285.5 670.0 L288.7 648.6 L292.5 608.0 L296.8 570.5 L300.7 577.0 L303.3 602.6 L305.9 625.0 L308.0 645.2 L311.0 670.0 L313.8 692.9 L318.0 712.0 L322.5 725.6 L330.5 729.6 L335.2 732.3 L343.9 728.3 L348.5 717.0 L353.2 700.2 L356.5 675.0 L359.9 640.0 L363.5 600.0 L367.4 561.9 L371.5 564.6 L374.5 605.0 L378.0 650.0 L382.0 682.0 L385.7 703.6 L389.5 716.0 L393.3 724.1 L402.3 734.3 L411.2 738.1 L422.7 742.0 L431.6 738.1 L439.5 738.1 L445.0 736.8 L453.1 730.4 L457.0 724.0 L460.9 716.7 L464.5 697.0 L468.6 673.9 L472.0 640.0 L476.5 595.0 L481.0 547.4 L485.0 556.8 L486.8 600.0 L488.1 638.9 L491.9 660.0 L497.4 700.8 L502.4 719.4 L507.3 734.3 L514.8 741.7 L517.2 742.1 L519.7 743.6 L522.2 745.4 L525.1 746.1 L528.0 745.9 L530.9 747.0 L533.7 747.6 L536.6 746.6 L539.5 747.9 L542.4 748.5 L545.4 747.6 L548.3 749.2 L551.2 748.4 L554.1 747.6 L557.1 748.1 L560.0 748.0 L562.7 748.2 L565.4 748.3 L568.1 749.0 L570.8 748.6 L573.5 749.3 L576.2 748.8 L578.9 748.3 L581.6 748.5" stroke="#404040" stroke-width="0.9" fill="none" stroke-linejoin="round"/>
<path d="M207.6 749.0 L213.3 747.8 L223.8 749.4 L239.4 747.3 L243.5 748.3 L251.9 744.7 L265.4 742.1 L269.6 737.9 L275.8 727.5 L278.9 722.6 L281.0 710.8 L284.8 681.7 L287.5 640.0 L290.4 594.0 L293.5 575.0 L296.4 563.7 L299.5 585.6 L301.5 605.0 L304.5 628.1 L307.0 650.0 L309.5 670.7 L312.5 690.0 L316.5 712.0 L321.1 731.0 L329.1 734.3 L335.8 737.4 L343.9 728.3 L349.0 712.0 L354.6 693.5 L357.0 670.0 L359.2 640.0 L362.5 600.0 L367.0 563.7 L369.5 580.0 L372.5 620.0 L376.0 655.0 L379.0 676.0 L381.8 690.9 L386.9 716.4 L393.3 731.7 L403.5 739.4 L413.7 742.0 L422.7 743.2 L431.6 744.5 L441.8 739.4 L449.0 733.0 L455.0 725.0 L460.0 712.0 L464.0 690.0 L468.0 660.0 L472.0 620.0 L476.0 580.0 L481.0 551.7 L484.0 600.0 L486.1 645.0 L489.0 672.0 L493.9 709.0 L497.0 722.0 L501.7 734.2 L507.3 741.7 L514.8 745.4 L517.3 745.4 L519.8 746.5 L522.4 747.1 L524.9 747.4 L527.5 748.2 L530.0 747.5 L532.5 747.4 L535.0 748.1 L537.5 747.6 L540.0 747.1 L542.5 747.7 L545.0 748.2 L547.5 748.2 L550.0 747.6 L552.5 748.0 L555.0 748.7 L557.5 748.4 L560.0 748.0 L562.7 748.4 L565.4 748.4 L568.1 748.2 L570.8 747.3 L573.5 749.1 L576.2 747.7 L578.9 748.8 L581.6 748.8" stroke="#ff4040" stroke-width="0.9" fill="none" stroke-linejoin="round"/>
<line x1="249.3" y1="570.5" x2="297" y2="570.5" stroke="#3c3c3c" stroke-width="1.1"/>
<path d="M270.5 570.5L270.5 563.5" stroke="#ff4040" stroke-width="1" stroke-dasharray="1 1" stroke-dashoffset="0.5" fill="none"/>
<path d="M270.5 563.5H296.6" stroke="#ff4040" stroke-width="1" stroke-dasharray="1 1" stroke-dashoffset="0.5" fill="none" opacity="0.85"/>
<rect x="269.5" y="571.0" width="2" height="1.6" fill="#ff4040"/>
<rect x="269.5" y="561.7" width="2" height="1.6" fill="#ff4040"/>
<text x="268.8" y="560.9" font-size="7.8" font-style="italic" fill="#ff2a2a" stroke="#ff2a2a" stroke-width="0.35" textLength="28.6" lengthAdjust="spacingAndGlyphs">ΔI = 0.03</text>
<path d="M276.5 570.5L276.5 580.5" stroke="#4040ff" stroke-width="1" stroke-dasharray="1 1" stroke-dashoffset="0.5" fill="none"/>
<path d="M276.5 580.5H294.4" stroke="#4040ff" stroke-width="1" stroke-dasharray="1 1" stroke-dashoffset="0.5" fill="none" opacity="0.85"/>
<rect x="275.5" y="571.0" width="2" height="1.6" fill="#4040ff"/>
<rect x="275.5" y="578.7" width="2" height="1.6" fill="#4040ff"/>
<text x="261.0" y="588.4" font-size="7.8" font-style="italic" fill="#3a3aff" stroke="#3a3aff" stroke-width="0.35" textLength="28.6" lengthAdjust="spacingAndGlyphs">ΔI = 0.07</text>
<path d="M259.5 570.5L259.5 616.5" stroke="#ff8030" stroke-width="1" stroke-dasharray="1 1" stroke-dashoffset="0.5" fill="none"/>
<path d="M259.5 616.5H288.5" stroke="#ff8030" stroke-width="1" fill="none" opacity="0.85"/>
<rect x="258.5" y="571.0" width="2" height="1.6" fill="#ff8030"/>
<rect x="258.5" y="614.7" width="2" height="1.6" fill="#ff8030"/>
<text x="259.3" y="612.2" font-size="7.8" font-style="italic" fill="#ff7a10" stroke="#ff7a10" stroke-width="0.35" textLength="28.6" lengthAdjust="spacingAndGlyphs">ΔI = 0.25</text>
<path d="M252.5 570.5L252.5 613.5" stroke="#ff4cff" stroke-width="1" stroke-dasharray="1 1" stroke-dashoffset="0.5" fill="none"/>
<path d="M252.5 613.5H279.8" stroke="#ff4cff" stroke-width="1" stroke-dasharray="1 1" stroke-dashoffset="0.5" fill="none" opacity="0.85"/>
<rect x="251.5" y="571.0" width="2" height="1.6" fill="#ff4cff"/>
<rect x="251.5" y="611.7" width="2" height="1.6" fill="#ff4cff"/>
<text x="249.0" y="624.4" font-size="7.8" font-style="italic" fill="#ff2aff" stroke="#ff2aff" stroke-width="0.35" textLength="28.6" lengthAdjust="spacingAndGlyphs">ΔI = 0.24</text>
<path d="M249.5 570.5L249.5 639.5" stroke="#b05858" stroke-width="1" stroke-dasharray="1 1" stroke-dashoffset="0.5" fill="none"/>
<path d="M249.5 639.5H271.5" stroke="#b05858" stroke-width="1" stroke-dasharray="1 1" stroke-dashoffset="0.5" fill="none" opacity="0.85"/>
<rect x="248.5" y="571.0" width="2" height="1.6" fill="#b05858"/>
<rect x="248.5" y="637.7" width="2" height="1.6" fill="#b05858"/>
<text x="234.4" y="647.6" font-size="7.8" font-style="italic" fill="#8a3030" stroke="#8a3030" stroke-width="0.35" textLength="28.6" lengthAdjust="spacingAndGlyphs">ΔI = 0.39</text>
<line x1="312.3" y1="561.5" x2="367.4" y2="561.5" stroke="#3c3c3c" stroke-width="1.1"/>
<path d="M331.5 561.5L331.5 563.5" stroke="#ff4040" stroke-width="1" stroke-dasharray="1 1" stroke-dashoffset="0.5" fill="none"/>
<path d="M331.5 563.5H367.0" stroke="#ff4040" stroke-width="1" stroke-dasharray="1 1" stroke-dashoffset="0.5" fill="none" opacity="0.85"/>
<rect x="330.5" y="562.0" width="2" height="1.6" fill="#ff4040"/>
<rect x="330.5" y="561.7" width="2" height="1.6" fill="#ff4040"/>
<text x="329.2" y="560.0" font-size="7.8" font-style="italic" fill="#ff2a2a" stroke="#ff2a2a" stroke-width="0.35" textLength="28.6" lengthAdjust="spacingAndGlyphs">ΔI = 0.02</text>
<path d="M325.5 561.5L325.5 569.5" stroke="#4040ff" stroke-width="1" stroke-dasharray="1 1" stroke-dashoffset="0.5" fill="none"/>
<path d="M325.5 569.5H364.7" stroke="#4040ff" stroke-width="1" stroke-dasharray="1 1" stroke-dashoffset="0.5" fill="none" opacity="0.85"/>
<rect x="324.5" y="562.0" width="2" height="1.6" fill="#4040ff"/>
<rect x="324.5" y="567.7" width="2" height="1.6" fill="#4040ff"/>
<text x="325.0" y="577.4" font-size="7.8" font-style="italic" fill="#3a3aff" stroke="#3a3aff" stroke-width="0.35" textLength="28.6" lengthAdjust="spacingAndGlyphs">ΔI = 0.05</text>
<path d="M321.5 561.5L321.5 604.5" stroke="#ff8030" stroke-width="1" stroke-dasharray="1 1" stroke-dashoffset="0.5" fill="none"/>
<path d="M321.5 604.5H359.5" stroke="#ff8030" stroke-width="1" stroke-dasharray="1 1" stroke-dashoffset="0.5" fill="none" opacity="0.85"/>
<rect x="320.5" y="562.0" width="2" height="1.6" fill="#ff8030"/>
<rect x="320.5" y="602.7" width="2" height="1.6" fill="#ff8030"/>
<text x="325.0" y="602.6" font-size="7.8" font-style="italic" fill="#ff7a10" stroke="#ff7a10" stroke-width="0.35" textLength="28.6" lengthAdjust="spacingAndGlyphs">ΔI = 0.24</text>
<path d="M316.5 561.5L316.5 615.5" stroke="#ff4cff" stroke-width="1" stroke-dasharray="1 1" stroke-dashoffset="0.5" fill="none"/>
<path d="M316.5 615.5H349.8" stroke="#ff4cff" stroke-width="1" stroke-dasharray="1 1" stroke-dashoffset="0.5" fill="none" opacity="0.85"/>
<rect x="315.5" y="562.0" width="2" height="1.6" fill="#ff4cff"/>
<rect x="315.5" y="613.7" width="2" height="1.6" fill="#ff4cff"/>
<text x="314.1" y="622.9" font-size="7.8" font-style="italic" fill="#ff2aff" stroke="#ff2aff" stroke-width="0.35" textLength="28.6" lengthAdjust="spacingAndGlyphs">ΔI = 0.30</text>
<path d="M313.5 561.5L313.5 630.5" stroke="#b05858" stroke-width="1" stroke-dasharray="1 1" stroke-dashoffset="0.5" fill="none"/>
<path d="M313.5 630.5H341.1" stroke="#b05858" stroke-width="1" stroke-dasharray="1 1" stroke-dashoffset="0.5" fill="none" opacity="0.85"/>
<rect x="312.5" y="562.0" width="2" height="1.6" fill="#b05858"/>
<rect x="312.5" y="628.7" width="2" height="1.6" fill="#b05858"/>
<text x="308.1" y="637.3" font-size="7.8" font-style="italic" fill="#8a3030" stroke="#8a3030" stroke-width="0.35" textLength="28.6" lengthAdjust="spacingAndGlyphs">ΔI = 0.37</text>
<line x1="408.7" y1="547.5" x2="481" y2="547.5" stroke="#3c3c3c" stroke-width="1.1"/>
<path d="M457.5 547.5L457.5 551.5" stroke="#ff4040" stroke-width="1" fill="none"/>
<path d="M457.5 551.5H481.0" stroke="#ff4040" stroke-width="1" stroke-dasharray="1 1" stroke-dashoffset="0.5" fill="none" opacity="0.85"/>
<rect x="456.5" y="548.0" width="2" height="1.6" fill="#ff4040"/>
<rect x="456.5" y="549.7" width="2" height="1.6" fill="#ff4040"/>
<text x="450.2" y="558.8" font-size="7.8" font-style="italic" fill="#ff2a2a" stroke="#ff2a2a" stroke-width="0.35" textLength="28.6" lengthAdjust="spacingAndGlyphs">ΔI = 0.04</text>
<path d="M447.5 547.5L447.5 565.5" stroke="#4040ff" stroke-width="1" stroke-dasharray="1 1" stroke-dashoffset="0.5" fill="none"/>
<path d="M447.5 565.5H478.3" stroke="#4040ff" stroke-width="1" fill="none" opacity="0.85"/>
<rect x="446.5" y="548.0" width="2" height="1.6" fill="#4040ff"/>
<rect x="446.5" y="563.7" width="2" height="1.6" fill="#4040ff"/>
<text x="438.2" y="574.6" font-size="7.8" font-style="italic" fill="#3a3aff" stroke="#3a3aff" stroke-width="0.35" textLength="28.6" lengthAdjust="spacingAndGlyphs">ΔI = 0.10</text>
<path d="M431.5 547.5L435.0 600.5" stroke="#ff8030" stroke-width="1" stroke-dasharray="1 1" stroke-dashoffset="0.5" fill="none"/>
<path d="M435.0 600.5H473.6" stroke="#ff8030" stroke-width="1" stroke-dasharray="1 1" stroke-dashoffset="0.5" fill="none" opacity="0.85"/>
<rect x="430.5" y="548.0" width="2" height="1.6" fill="#ff8030"/>
<rect x="434.0" y="598.7" width="2" height="1.6" fill="#ff8030"/>
<text x="438.8" y="598.9" font-size="7.8" font-style="italic" fill="#ff7a10" stroke="#ff7a10" stroke-width="0.35" textLength="28.6" lengthAdjust="spacingAndGlyphs">ΔI = 0.26</text>
<path d="M420.3 547.5L424.1 603.5" stroke="#ff4cff" stroke-width="1" stroke-dasharray="1 1" stroke-dashoffset="0.5" fill="none"/>
<path d="M424.1 603.5H464.0" stroke="#ff4cff" stroke-width="1" stroke-dasharray="1 1" stroke-dashoffset="0.5" fill="none" opacity="0.85"/>
<rect x="419.3" y="548.0" width="2" height="1.6" fill="#ff4cff"/>
<rect x="423.1" y="601.7" width="2" height="1.6" fill="#ff4cff"/>
<text x="423.8" y="611.7" font-size="7.8" font-style="italic" fill="#ff2aff" stroke="#ff2aff" stroke-width="0.35" textLength="28.6" lengthAdjust="spacingAndGlyphs">ΔI = 0.27</text>
<path d="M411.4 547.5L415.8 625.5" stroke="#b05858" stroke-width="1" fill="none"/>
<path d="M415.8 625.5H454.9" stroke="#b05858" stroke-width="1" stroke-dasharray="1 1" stroke-dashoffset="0.5" fill="none" opacity="0.85"/>
<rect x="410.4" y="548.0" width="2" height="1.6" fill="#b05858"/>
<rect x="414.8" y="623.7" width="2" height="1.6" fill="#b05858"/>
<text x="414.5" y="633.3" font-size="7.8" font-style="italic" fill="#8a3030" stroke="#8a3030" stroke-width="0.35" textLength="28.6" lengthAdjust="spacingAndGlyphs">ΔI = 0.39</text>
</svg>
</body></html>
